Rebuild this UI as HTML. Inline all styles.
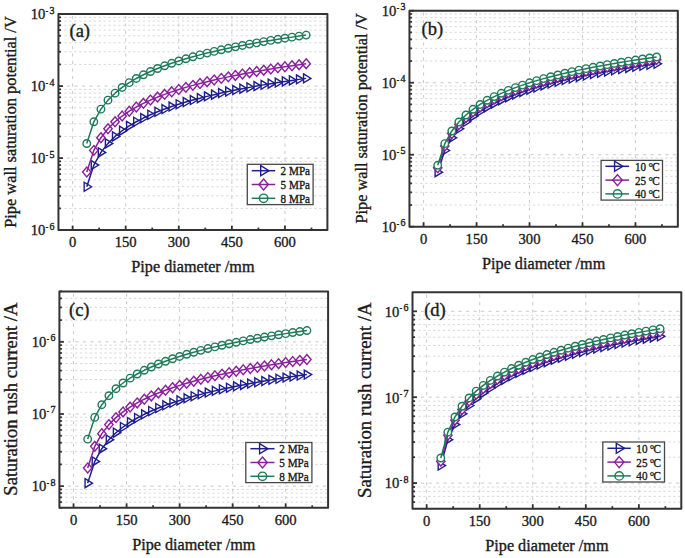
<!DOCTYPE html><html><head><meta charset="utf-8"><style>html,body{margin:0;padding:0;background:#fff;overflow:hidden}svg{display:block}text{font-family:"Liberation Serif",serif;fill:#1a1a1a;stroke:#1a1a1a;stroke-width:0.35px}</style></head><body>
<svg width="685" height="558" viewBox="0 0 685 558">
<rect width="685" height="558" fill="#fff"/>
<g stroke="#d4d4d4" stroke-width="0.9" stroke-dasharray="2.3 2.6"><line x1="59.45" y1="208.43" x2="326.4" y2="208.43"/><line x1="59.45" y1="195.75" x2="326.4" y2="195.75"/><line x1="59.45" y1="186.75" x2="326.4" y2="186.75"/><line x1="59.45" y1="179.77" x2="326.4" y2="179.77"/><line x1="59.45" y1="174.07" x2="326.4" y2="174.07"/><line x1="59.45" y1="169.25" x2="326.4" y2="169.25"/><line x1="59.45" y1="165.08" x2="326.4" y2="165.08"/><line x1="59.45" y1="161.39" x2="326.4" y2="161.39"/><line x1="59.45" y1="136.43" x2="326.4" y2="136.43"/><line x1="59.45" y1="123.75" x2="326.4" y2="123.75"/><line x1="59.45" y1="114.75" x2="326.4" y2="114.75"/><line x1="59.45" y1="107.77" x2="326.4" y2="107.77"/><line x1="59.45" y1="102.07" x2="326.4" y2="102.07"/><line x1="59.45" y1="97.25" x2="326.4" y2="97.25"/><line x1="59.45" y1="93.08" x2="326.4" y2="93.08"/><line x1="59.45" y1="89.39" x2="326.4" y2="89.39"/><line x1="59.45" y1="64.43" x2="326.4" y2="64.43"/><line x1="59.45" y1="51.75" x2="326.4" y2="51.75"/><line x1="59.45" y1="42.75" x2="326.4" y2="42.75"/><line x1="59.45" y1="35.77" x2="326.4" y2="35.77"/><line x1="59.45" y1="30.07" x2="326.4" y2="30.07"/><line x1="59.45" y1="25.25" x2="326.4" y2="25.25"/><line x1="59.45" y1="21.08" x2="326.4" y2="21.08"/><line x1="59.45" y1="17.39" x2="326.4" y2="17.39"/></g>
<g stroke="#c4c4c4" stroke-width="0.9" stroke-dasharray="3.2 4.3"><line x1="59.45" y1="158.1" x2="326.4" y2="158.1"/><line x1="59.45" y1="86.1" x2="326.4" y2="86.1"/><line x1="72.61" y1="229.1" x2="72.61" y2="15.1"/><line x1="125.69" y1="229.1" x2="125.69" y2="15.1"/><line x1="178.77" y1="229.1" x2="178.77" y2="15.1"/><line x1="231.85" y1="229.1" x2="231.85" y2="15.1"/><line x1="284.93" y1="229.1" x2="284.93" y2="15.1"/></g>
<path d="M84.16 182.25L91.56 186.75L84.16 191.25Z" fill="#fff" stroke="#1e1e8e" stroke-width="1.4" stroke-linejoin="miter"/><path d="M91.24 160.58L98.64 165.08L91.24 169.58Z" fill="#fff" stroke="#1e1e8e" stroke-width="1.4" stroke-linejoin="miter"/><path d="M98.32 147.9L105.72 152.4L98.32 156.9Z" fill="#fff" stroke="#1e1e8e" stroke-width="1.4" stroke-linejoin="miter"/><path d="M105.39 138.9L112.79 143.4L105.39 147.9Z" fill="#fff" stroke="#1e1e8e" stroke-width="1.4" stroke-linejoin="miter"/><path d="M112.47 131.93L119.87 136.43L112.47 140.93Z" fill="#fff" stroke="#1e1e8e" stroke-width="1.4" stroke-linejoin="miter"/><path d="M119.55 126.22L126.95 130.72L119.55 135.22Z" fill="#fff" stroke="#1e1e8e" stroke-width="1.4" stroke-linejoin="miter"/><path d="M126.63 121.4L134.03 125.9L126.63 130.4Z" fill="#fff" stroke="#1e1e8e" stroke-width="1.4" stroke-linejoin="miter"/><path d="M133.7 117.23L141.1 121.73L133.7 126.23Z" fill="#fff" stroke="#1e1e8e" stroke-width="1.4" stroke-linejoin="miter"/><path d="M140.78 113.55L148.18 118.05L140.78 122.55Z" fill="#fff" stroke="#1e1e8e" stroke-width="1.4" stroke-linejoin="miter"/><path d="M147.86 110.25L155.26 114.75L147.86 119.25Z" fill="#fff" stroke="#1e1e8e" stroke-width="1.4" stroke-linejoin="miter"/><path d="M154.94 107.27L162.34 111.77L154.94 116.27Z" fill="#fff" stroke="#1e1e8e" stroke-width="1.4" stroke-linejoin="miter"/><path d="M162.01 104.55L169.41 109.05L162.01 113.55Z" fill="#fff" stroke="#1e1e8e" stroke-width="1.4" stroke-linejoin="miter"/><path d="M169.09 102.05L176.49 106.55L169.09 111.05Z" fill="#fff" stroke="#1e1e8e" stroke-width="1.4" stroke-linejoin="miter"/><path d="M176.17 99.73L183.57 104.23L176.17 108.73Z" fill="#fff" stroke="#1e1e8e" stroke-width="1.4" stroke-linejoin="miter"/><path d="M183.25 97.57L190.65 102.07L183.25 106.57Z" fill="#fff" stroke="#1e1e8e" stroke-width="1.4" stroke-linejoin="miter"/><path d="M190.33 95.56L197.73 100.06L190.33 104.56Z" fill="#fff" stroke="#1e1e8e" stroke-width="1.4" stroke-linejoin="miter"/><path d="M197.4 93.66L204.8 98.16L197.4 102.66Z" fill="#fff" stroke="#1e1e8e" stroke-width="1.4" stroke-linejoin="miter"/><path d="M204.48 91.87L211.88 96.37L204.48 100.87Z" fill="#fff" stroke="#1e1e8e" stroke-width="1.4" stroke-linejoin="miter"/><path d="M211.56 90.18L218.96 94.68L211.56 99.18Z" fill="#fff" stroke="#1e1e8e" stroke-width="1.4" stroke-linejoin="miter"/><path d="M218.64 88.58L226.04 93.08L218.64 97.58Z" fill="#fff" stroke="#1e1e8e" stroke-width="1.4" stroke-linejoin="miter"/><path d="M225.71 87.05L233.11 91.55L225.71 96.05Z" fill="#fff" stroke="#1e1e8e" stroke-width="1.4" stroke-linejoin="miter"/><path d="M232.79 85.6L240.19 90.1L232.79 94.6Z" fill="#fff" stroke="#1e1e8e" stroke-width="1.4" stroke-linejoin="miter"/><path d="M239.87 84.21L247.27 88.71L239.87 93.21Z" fill="#fff" stroke="#1e1e8e" stroke-width="1.4" stroke-linejoin="miter"/><path d="M246.95 82.88L254.35 87.38L246.95 91.88Z" fill="#fff" stroke="#1e1e8e" stroke-width="1.4" stroke-linejoin="miter"/><path d="M254.02 81.6L261.42 86.1L254.02 90.6Z" fill="#fff" stroke="#1e1e8e" stroke-width="1.4" stroke-linejoin="miter"/><path d="M261.1 80.37L268.5 84.87L261.1 89.37Z" fill="#fff" stroke="#1e1e8e" stroke-width="1.4" stroke-linejoin="miter"/><path d="M268.18 79.19L275.58 83.69L268.18 88.19Z" fill="#fff" stroke="#1e1e8e" stroke-width="1.4" stroke-linejoin="miter"/><path d="M275.26 78.06L282.66 82.56L275.26 87.06Z" fill="#fff" stroke="#1e1e8e" stroke-width="1.4" stroke-linejoin="miter"/><path d="M282.33 76.96L289.73 81.46L282.33 85.96Z" fill="#fff" stroke="#1e1e8e" stroke-width="1.4" stroke-linejoin="miter"/><path d="M289.41 75.9L296.81 80.4L289.41 84.9Z" fill="#fff" stroke="#1e1e8e" stroke-width="1.4" stroke-linejoin="miter"/><path d="M296.49 74.87L303.89 79.37L296.49 83.87Z" fill="#fff" stroke="#1e1e8e" stroke-width="1.4" stroke-linejoin="miter"/><path d="M303.57 73.88L310.97 78.38L303.57 82.88Z" fill="#fff" stroke="#1e1e8e" stroke-width="1.4" stroke-linejoin="miter"/>
<path d="M86.76 186.75L93.84 165.08L100.92 152.4L107.99 143.4L115.07 136.43L122.15 130.72L129.23 125.9L136.3 121.73L143.38 118.05L150.46 114.75L157.54 111.77L164.61 109.05L171.69 106.55L178.77 104.23L185.85 102.07L192.93 100.06L200 98.16L207.08 96.37L214.16 94.68L221.24 93.08L228.31 91.55L235.39 90.1L242.47 88.71L249.55 87.38L256.62 86.1L263.7 84.87L270.78 83.69L277.86 82.56L284.93 81.46L292.01 80.4L299.09 79.37L306.17 78.38" fill="none" stroke="#1e1e8e" stroke-width="1.5" stroke-linejoin="round"/>
<path d="M86.76 167.16L90.96 172.06L86.76 176.96L82.56 172.06Z" fill="#fff" stroke="#8a1f9c" stroke-width="1.4" stroke-linejoin="miter"/><path d="M93.84 145.48L98.04 150.38L93.84 155.28L89.64 150.38Z" fill="#fff" stroke="#8a1f9c" stroke-width="1.4" stroke-linejoin="miter"/><path d="M100.92 132.8L105.12 137.7L100.92 142.6L96.72 137.7Z" fill="#fff" stroke="#8a1f9c" stroke-width="1.4" stroke-linejoin="miter"/><path d="M107.99 123.81L112.19 128.71L107.99 133.61L103.79 128.71Z" fill="#fff" stroke="#8a1f9c" stroke-width="1.4" stroke-linejoin="miter"/><path d="M115.07 116.83L119.27 121.73L115.07 126.63L110.87 121.73Z" fill="#fff" stroke="#8a1f9c" stroke-width="1.4" stroke-linejoin="miter"/><path d="M122.15 111.13L126.35 116.03L122.15 120.93L117.95 116.03Z" fill="#fff" stroke="#8a1f9c" stroke-width="1.4" stroke-linejoin="miter"/><path d="M129.23 106.31L133.43 111.21L129.23 116.11L125.03 111.21Z" fill="#fff" stroke="#8a1f9c" stroke-width="1.4" stroke-linejoin="miter"/><path d="M136.3 102.13L140.5 107.03L136.3 111.93L132.1 107.03Z" fill="#fff" stroke="#8a1f9c" stroke-width="1.4" stroke-linejoin="miter"/><path d="M143.38 98.45L147.58 103.35L143.38 108.25L139.18 103.35Z" fill="#fff" stroke="#8a1f9c" stroke-width="1.4" stroke-linejoin="miter"/><path d="M150.46 95.16L154.66 100.06L150.46 104.96L146.26 100.06Z" fill="#fff" stroke="#8a1f9c" stroke-width="1.4" stroke-linejoin="miter"/><path d="M157.54 92.17L161.74 97.07L157.54 101.97L153.34 97.07Z" fill="#fff" stroke="#8a1f9c" stroke-width="1.4" stroke-linejoin="miter"/><path d="M164.61 89.45L168.81 94.35L164.61 99.25L160.41 94.35Z" fill="#fff" stroke="#8a1f9c" stroke-width="1.4" stroke-linejoin="miter"/><path d="M171.69 86.95L175.89 91.85L171.69 96.75L167.49 91.85Z" fill="#fff" stroke="#8a1f9c" stroke-width="1.4" stroke-linejoin="miter"/><path d="M178.77 84.63L182.97 89.53L178.77 94.43L174.57 89.53Z" fill="#fff" stroke="#8a1f9c" stroke-width="1.4" stroke-linejoin="miter"/><path d="M185.85 82.48L190.05 87.38L185.85 92.28L181.65 87.38Z" fill="#fff" stroke="#8a1f9c" stroke-width="1.4" stroke-linejoin="miter"/><path d="M192.93 80.46L197.12 85.36L192.93 90.26L188.73 85.36Z" fill="#fff" stroke="#8a1f9c" stroke-width="1.4" stroke-linejoin="miter"/><path d="M200 78.56L204.2 83.46L200 88.36L195.8 83.46Z" fill="#fff" stroke="#8a1f9c" stroke-width="1.4" stroke-linejoin="miter"/><path d="M207.08 76.78L211.28 81.68L207.08 86.58L202.88 81.68Z" fill="#fff" stroke="#8a1f9c" stroke-width="1.4" stroke-linejoin="miter"/><path d="M214.16 75.08L218.36 79.98L214.16 84.88L209.96 79.98Z" fill="#fff" stroke="#8a1f9c" stroke-width="1.4" stroke-linejoin="miter"/><path d="M221.24 73.48L225.44 78.38L221.24 83.28L217.04 78.38Z" fill="#fff" stroke="#8a1f9c" stroke-width="1.4" stroke-linejoin="miter"/><path d="M228.31 71.96L232.51 76.86L228.31 81.76L224.11 76.86Z" fill="#fff" stroke="#8a1f9c" stroke-width="1.4" stroke-linejoin="miter"/><path d="M235.39 70.5L239.59 75.4L235.39 80.3L231.19 75.4Z" fill="#fff" stroke="#8a1f9c" stroke-width="1.4" stroke-linejoin="miter"/><path d="M242.47 69.11L246.67 74.01L242.47 78.91L238.27 74.01Z" fill="#fff" stroke="#8a1f9c" stroke-width="1.4" stroke-linejoin="miter"/><path d="M249.55 67.78L253.75 72.68L249.55 77.58L245.35 72.68Z" fill="#fff" stroke="#8a1f9c" stroke-width="1.4" stroke-linejoin="miter"/><path d="M256.62 66.5L260.82 71.4L256.62 76.3L252.42 71.4Z" fill="#fff" stroke="#8a1f9c" stroke-width="1.4" stroke-linejoin="miter"/><path d="M263.7 65.28L267.9 70.18L263.7 75.08L259.5 70.18Z" fill="#fff" stroke="#8a1f9c" stroke-width="1.4" stroke-linejoin="miter"/><path d="M270.78 64.1L274.98 69L270.78 73.9L266.58 69Z" fill="#fff" stroke="#8a1f9c" stroke-width="1.4" stroke-linejoin="miter"/><path d="M277.86 62.96L282.06 67.86L277.86 72.76L273.66 67.86Z" fill="#fff" stroke="#8a1f9c" stroke-width="1.4" stroke-linejoin="miter"/><path d="M284.93 61.86L289.13 66.76L284.93 71.66L280.73 66.76Z" fill="#fff" stroke="#8a1f9c" stroke-width="1.4" stroke-linejoin="miter"/><path d="M292.01 60.8L296.21 65.7L292.01 70.6L287.81 65.7Z" fill="#fff" stroke="#8a1f9c" stroke-width="1.4" stroke-linejoin="miter"/><path d="M299.09 59.78L303.29 64.68L299.09 69.58L294.89 64.68Z" fill="#fff" stroke="#8a1f9c" stroke-width="1.4" stroke-linejoin="miter"/><path d="M306.17 58.78L310.37 63.68L306.17 68.58L301.97 63.68Z" fill="#fff" stroke="#8a1f9c" stroke-width="1.4" stroke-linejoin="miter"/>
<path d="M86.76 172.06L93.84 150.38L100.92 137.7L107.99 128.71L115.07 121.73L122.15 116.03L129.23 111.21L136.3 107.03L143.38 103.35L150.46 100.06L157.54 97.07L164.61 94.35L171.69 91.85L178.77 89.53L185.85 87.38L192.93 85.36L200 83.46L207.08 81.68L214.16 79.98L221.24 78.38L228.31 76.86L235.39 75.4L242.47 74.01L249.55 72.68L256.62 71.4L263.7 70.18L270.78 69L277.86 67.86L284.93 66.76L292.01 65.7L299.09 64.68L306.17 63.68" fill="none" stroke="#8a1f9c" stroke-width="1.5" stroke-linejoin="round"/>
<circle cx="86.76" cy="143.48" r="3.75" fill="#fff" stroke="#1f7a58" stroke-width="1.4"/><circle cx="93.84" cy="121.81" r="3.75" fill="#fff" stroke="#1f7a58" stroke-width="1.4"/><circle cx="100.92" cy="109.13" r="3.75" fill="#fff" stroke="#1f7a58" stroke-width="1.4"/><circle cx="107.99" cy="100.13" r="3.75" fill="#fff" stroke="#1f7a58" stroke-width="1.4"/><circle cx="115.07" cy="93.16" r="3.75" fill="#fff" stroke="#1f7a58" stroke-width="1.4"/><circle cx="122.15" cy="87.45" r="3.75" fill="#fff" stroke="#1f7a58" stroke-width="1.4"/><circle cx="129.23" cy="82.63" r="3.75" fill="#fff" stroke="#1f7a58" stroke-width="1.4"/><circle cx="136.3" cy="78.46" r="3.75" fill="#fff" stroke="#1f7a58" stroke-width="1.4"/><circle cx="143.38" cy="74.78" r="3.75" fill="#fff" stroke="#1f7a58" stroke-width="1.4"/><circle cx="150.46" cy="71.48" r="3.75" fill="#fff" stroke="#1f7a58" stroke-width="1.4"/><circle cx="157.54" cy="68.5" r="3.75" fill="#fff" stroke="#1f7a58" stroke-width="1.4"/><circle cx="164.61" cy="65.78" r="3.75" fill="#fff" stroke="#1f7a58" stroke-width="1.4"/><circle cx="171.69" cy="63.28" r="3.75" fill="#fff" stroke="#1f7a58" stroke-width="1.4"/><circle cx="178.77" cy="60.96" r="3.75" fill="#fff" stroke="#1f7a58" stroke-width="1.4"/><circle cx="185.85" cy="58.8" r="3.75" fill="#fff" stroke="#1f7a58" stroke-width="1.4"/><circle cx="192.93" cy="56.78" r="3.75" fill="#fff" stroke="#1f7a58" stroke-width="1.4"/><circle cx="200" cy="54.89" r="3.75" fill="#fff" stroke="#1f7a58" stroke-width="1.4"/><circle cx="207.08" cy="53.1" r="3.75" fill="#fff" stroke="#1f7a58" stroke-width="1.4"/><circle cx="214.16" cy="51.41" r="3.75" fill="#fff" stroke="#1f7a58" stroke-width="1.4"/><circle cx="221.24" cy="49.81" r="3.75" fill="#fff" stroke="#1f7a58" stroke-width="1.4"/><circle cx="228.31" cy="48.28" r="3.75" fill="#fff" stroke="#1f7a58" stroke-width="1.4"/><circle cx="235.39" cy="46.83" r="3.75" fill="#fff" stroke="#1f7a58" stroke-width="1.4"/><circle cx="242.47" cy="45.44" r="3.75" fill="#fff" stroke="#1f7a58" stroke-width="1.4"/><circle cx="249.55" cy="44.11" r="3.75" fill="#fff" stroke="#1f7a58" stroke-width="1.4"/><circle cx="256.62" cy="42.83" r="3.75" fill="#fff" stroke="#1f7a58" stroke-width="1.4"/><circle cx="263.7" cy="41.6" r="3.75" fill="#fff" stroke="#1f7a58" stroke-width="1.4"/><circle cx="270.78" cy="40.42" r="3.75" fill="#fff" stroke="#1f7a58" stroke-width="1.4"/><circle cx="277.86" cy="39.29" r="3.75" fill="#fff" stroke="#1f7a58" stroke-width="1.4"/><circle cx="284.93" cy="38.19" r="3.75" fill="#fff" stroke="#1f7a58" stroke-width="1.4"/><circle cx="292.01" cy="37.13" r="3.75" fill="#fff" stroke="#1f7a58" stroke-width="1.4"/><circle cx="299.09" cy="36.1" r="3.75" fill="#fff" stroke="#1f7a58" stroke-width="1.4"/><circle cx="306.17" cy="35.11" r="3.75" fill="#fff" stroke="#1f7a58" stroke-width="1.4"/>
<path d="M86.76 143.48L93.84 121.81L100.92 109.13L107.99 100.13L115.07 93.16L122.15 87.45L129.23 82.63L136.3 78.46L143.38 74.78L150.46 71.48L157.54 68.5L164.61 65.78L171.69 63.28L178.77 60.96L185.85 58.8L192.93 56.78L200 54.89L207.08 53.1L214.16 51.41L221.24 49.81L228.31 48.28L235.39 46.83L242.47 45.44L249.55 44.11L256.62 42.83L263.7 41.6L270.78 40.42L277.86 39.29L284.93 38.19L292.01 37.13L299.09 36.1L306.17 35.11" fill="none" stroke="#1f7a58" stroke-width="1.5" stroke-linejoin="round"/>
<rect x="58.45" y="14.1" width="268.95" height="216" fill="none" stroke="#333333" stroke-width="2" stroke-linejoin="round"/>
<g stroke="#333333"><line x1="72.61" y1="230.1" x2="72.61" y2="225.6" stroke-width="1.8"/><line x1="125.69" y1="230.1" x2="125.69" y2="225.6" stroke-width="1.8"/><line x1="178.77" y1="230.1" x2="178.77" y2="225.6" stroke-width="1.8"/><line x1="231.85" y1="230.1" x2="231.85" y2="225.6" stroke-width="1.8"/><line x1="284.93" y1="230.1" x2="284.93" y2="225.6" stroke-width="1.8"/><line x1="99.15" y1="230.1" x2="99.15" y2="227.6" stroke-width="1.8"/><line x1="152.23" y1="230.1" x2="152.23" y2="227.6" stroke-width="1.8"/><line x1="205.31" y1="230.1" x2="205.31" y2="227.6" stroke-width="1.8"/><line x1="258.39" y1="230.1" x2="258.39" y2="227.6" stroke-width="1.8"/><line x1="311.48" y1="230.1" x2="311.48" y2="227.6" stroke-width="1.8"/><line x1="58.45" y1="230.1" x2="62.95" y2="230.1" stroke-width="1.8"/><line x1="58.45" y1="208.43" x2="60.95" y2="208.43" stroke-width="1.8"/><line x1="58.45" y1="195.75" x2="60.95" y2="195.75" stroke-width="1.8"/><line x1="58.45" y1="186.75" x2="60.95" y2="186.75" stroke-width="1.8"/><line x1="58.45" y1="179.77" x2="60.95" y2="179.77" stroke-width="1.8"/><line x1="58.45" y1="174.07" x2="60.95" y2="174.07" stroke-width="1.8"/><line x1="58.45" y1="169.25" x2="60.95" y2="169.25" stroke-width="1.8"/><line x1="58.45" y1="165.08" x2="60.95" y2="165.08" stroke-width="1.8"/><line x1="58.45" y1="161.39" x2="60.95" y2="161.39" stroke-width="1.8"/><line x1="58.45" y1="158.1" x2="62.95" y2="158.1" stroke-width="1.8"/><line x1="58.45" y1="136.43" x2="60.95" y2="136.43" stroke-width="1.8"/><line x1="58.45" y1="123.75" x2="60.95" y2="123.75" stroke-width="1.8"/><line x1="58.45" y1="114.75" x2="60.95" y2="114.75" stroke-width="1.8"/><line x1="58.45" y1="107.77" x2="60.95" y2="107.77" stroke-width="1.8"/><line x1="58.45" y1="102.07" x2="60.95" y2="102.07" stroke-width="1.8"/><line x1="58.45" y1="97.25" x2="60.95" y2="97.25" stroke-width="1.8"/><line x1="58.45" y1="93.08" x2="60.95" y2="93.08" stroke-width="1.8"/><line x1="58.45" y1="89.39" x2="60.95" y2="89.39" stroke-width="1.8"/><line x1="58.45" y1="86.1" x2="62.95" y2="86.1" stroke-width="1.8"/><line x1="58.45" y1="64.43" x2="60.95" y2="64.43" stroke-width="1.8"/><line x1="58.45" y1="51.75" x2="60.95" y2="51.75" stroke-width="1.8"/><line x1="58.45" y1="42.75" x2="60.95" y2="42.75" stroke-width="1.8"/><line x1="58.45" y1="35.77" x2="60.95" y2="35.77" stroke-width="1.8"/><line x1="58.45" y1="30.07" x2="60.95" y2="30.07" stroke-width="1.8"/><line x1="58.45" y1="25.25" x2="60.95" y2="25.25" stroke-width="1.8"/><line x1="58.45" y1="21.08" x2="60.95" y2="21.08" stroke-width="1.8"/><line x1="58.45" y1="17.39" x2="60.95" y2="17.39" stroke-width="1.8"/><line x1="58.45" y1="14.1" x2="62.95" y2="14.1" stroke-width="1.8"/></g>
<text x="72.61" y="247.4" font-size="14.6" text-anchor="middle">0</text>
<text x="125.69" y="247.4" font-size="14.6" text-anchor="middle">150</text>
<text x="178.77" y="247.4" font-size="14.6" text-anchor="middle">300</text>
<text x="231.85" y="247.4" font-size="14.6" text-anchor="middle">450</text>
<text x="284.93" y="247.4" font-size="14.6" text-anchor="middle">600</text>
<text x="54.45" y="235.4" font-size="14.6" text-anchor="end">10<tspan font-size="7" dx="0.5" dy="-6.5">-</tspan><tspan font-size="10" dx="1.3" dy="0.7">6</tspan></text>
<text x="54.45" y="163.4" font-size="14.6" text-anchor="end">10<tspan font-size="7" dx="0.5" dy="-6.5">-</tspan><tspan font-size="10" dx="1.3" dy="0.7">5</tspan></text>
<text x="54.45" y="91.4" font-size="14.6" text-anchor="end">10<tspan font-size="7" dx="0.5" dy="-6.5">-</tspan><tspan font-size="10" dx="1.3" dy="0.7">4</tspan></text>
<text x="54.45" y="19.4" font-size="14.6" text-anchor="end">10<tspan font-size="7" dx="0.5" dy="-6.5">-</tspan><tspan font-size="10" dx="1.3" dy="0.7">3</tspan></text>
<text x="192.92" y="271.7" font-size="16.2" text-anchor="middle">Pipe diameter /mm</text>
<text transform="translate(15.6 122.05) rotate(-90)" font-size="16.35" text-anchor="middle">Pipe wall saturation potential /V</text>
<text x="69.5" y="36.8" font-size="18.5">(a)</text>
<rect x="247.3" y="164.3" width="65.8" height="40.3" fill="#fff" stroke="#484848" stroke-width="1.3"/>
<path d="M260.69 165.66L268.98 170.7L260.69 175.74Z" fill="#fff" stroke="#1e1e8e" stroke-width="1.4" stroke-linejoin="miter"/>
<line x1="251.7" y1="170.7" x2="275.2" y2="170.7" stroke="#1e1e8e" stroke-width="1.5"/>
<text transform="translate(280.6 175.1) scale(0.93 1)" font-size="12">2 MPa</text>
<path d="M263.6 179.01L268.3 184.5L263.6 189.99L258.9 184.5Z" fill="#fff" stroke="#8a1f9c" stroke-width="1.4" stroke-linejoin="miter"/>
<line x1="251.7" y1="184.5" x2="275.2" y2="184.5" stroke="#8a1f9c" stroke-width="1.5"/>
<text transform="translate(280.6 188.9) scale(0.93 1)" font-size="12">5 MPa</text>
<circle cx="263.6" cy="198.3" r="4.2" fill="#fff" stroke="#1f7a58" stroke-width="1.4"/>
<line x1="251.7" y1="198.3" x2="275.2" y2="198.3" stroke="#1f7a58" stroke-width="1.5"/>
<text transform="translate(280.6 202.7) scale(0.93 1)" font-size="12">8 MPa</text>
<g stroke="#d4d4d4" stroke-width="0.9" stroke-dasharray="2.3 2.6"><line x1="410.45" y1="205.03" x2="676.85" y2="205.03"/><line x1="410.45" y1="192.35" x2="676.85" y2="192.35"/><line x1="410.45" y1="183.35" x2="676.85" y2="183.35"/><line x1="410.45" y1="176.37" x2="676.85" y2="176.37"/><line x1="410.45" y1="170.67" x2="676.85" y2="170.67"/><line x1="410.45" y1="165.85" x2="676.85" y2="165.85"/><line x1="410.45" y1="161.68" x2="676.85" y2="161.68"/><line x1="410.45" y1="157.99" x2="676.85" y2="157.99"/><line x1="410.45" y1="133.03" x2="676.85" y2="133.03"/><line x1="410.45" y1="120.35" x2="676.85" y2="120.35"/><line x1="410.45" y1="111.35" x2="676.85" y2="111.35"/><line x1="410.45" y1="104.37" x2="676.85" y2="104.37"/><line x1="410.45" y1="98.67" x2="676.85" y2="98.67"/><line x1="410.45" y1="93.85" x2="676.85" y2="93.85"/><line x1="410.45" y1="89.68" x2="676.85" y2="89.68"/><line x1="410.45" y1="85.99" x2="676.85" y2="85.99"/><line x1="410.45" y1="61.03" x2="676.85" y2="61.03"/><line x1="410.45" y1="48.35" x2="676.85" y2="48.35"/><line x1="410.45" y1="39.35" x2="676.85" y2="39.35"/><line x1="410.45" y1="32.37" x2="676.85" y2="32.37"/><line x1="410.45" y1="26.67" x2="676.85" y2="26.67"/><line x1="410.45" y1="21.85" x2="676.85" y2="21.85"/><line x1="410.45" y1="17.68" x2="676.85" y2="17.68"/><line x1="410.45" y1="13.99" x2="676.85" y2="13.99"/></g>
<g stroke="#c4c4c4" stroke-width="0.9" stroke-dasharray="3.2 4.3"><line x1="410.45" y1="154.7" x2="676.85" y2="154.7"/><line x1="410.45" y1="82.7" x2="676.85" y2="82.7"/><line x1="423.58" y1="225.7" x2="423.58" y2="11.7"/><line x1="476.55" y1="225.7" x2="476.55" y2="11.7"/><line x1="529.52" y1="225.7" x2="529.52" y2="11.7"/><line x1="582.5" y1="225.7" x2="582.5" y2="11.7"/><line x1="635.47" y1="225.7" x2="635.47" y2="11.7"/></g>
<path d="M435.1 167.67L442.5 172.17L435.1 176.67Z" fill="#fff" stroke="#1e1e8e" stroke-width="1.4" stroke-linejoin="miter"/><path d="M442.17 145.99L449.57 150.49L442.17 154.99Z" fill="#fff" stroke="#1e1e8e" stroke-width="1.4" stroke-linejoin="miter"/><path d="M449.23 133.31L456.63 137.81L449.23 142.31Z" fill="#fff" stroke="#1e1e8e" stroke-width="1.4" stroke-linejoin="miter"/><path d="M456.29 124.32L463.69 128.82L456.29 133.32Z" fill="#fff" stroke="#1e1e8e" stroke-width="1.4" stroke-linejoin="miter"/><path d="M463.36 117.34L470.76 121.84L463.36 126.34Z" fill="#fff" stroke="#1e1e8e" stroke-width="1.4" stroke-linejoin="miter"/><path d="M470.42 111.64L477.82 116.14L470.42 120.64Z" fill="#fff" stroke="#1e1e8e" stroke-width="1.4" stroke-linejoin="miter"/><path d="M477.48 106.82L484.88 111.32L477.48 115.82Z" fill="#fff" stroke="#1e1e8e" stroke-width="1.4" stroke-linejoin="miter"/><path d="M484.54 102.65L491.94 107.15L484.54 111.65Z" fill="#fff" stroke="#1e1e8e" stroke-width="1.4" stroke-linejoin="miter"/><path d="M491.61 98.96L499.01 103.46L491.61 107.96Z" fill="#fff" stroke="#1e1e8e" stroke-width="1.4" stroke-linejoin="miter"/><path d="M498.67 95.67L506.07 100.17L498.67 104.67Z" fill="#fff" stroke="#1e1e8e" stroke-width="1.4" stroke-linejoin="miter"/><path d="M505.73 92.69L513.13 97.19L505.73 101.69Z" fill="#fff" stroke="#1e1e8e" stroke-width="1.4" stroke-linejoin="miter"/><path d="M512.8 89.97L520.2 94.47L512.8 98.97Z" fill="#fff" stroke="#1e1e8e" stroke-width="1.4" stroke-linejoin="miter"/><path d="M519.86 87.46L527.26 91.96L519.86 96.46Z" fill="#fff" stroke="#1e1e8e" stroke-width="1.4" stroke-linejoin="miter"/><path d="M526.92 85.15L534.32 89.65L526.92 94.15Z" fill="#fff" stroke="#1e1e8e" stroke-width="1.4" stroke-linejoin="miter"/><path d="M533.99 82.99L541.39 87.49L533.99 91.99Z" fill="#fff" stroke="#1e1e8e" stroke-width="1.4" stroke-linejoin="miter"/><path d="M541.05 80.97L548.45 85.47L541.05 89.97Z" fill="#fff" stroke="#1e1e8e" stroke-width="1.4" stroke-linejoin="miter"/><path d="M548.11 79.08L555.51 83.58L548.11 88.08Z" fill="#fff" stroke="#1e1e8e" stroke-width="1.4" stroke-linejoin="miter"/><path d="M555.18 77.29L562.58 81.79L555.18 86.29Z" fill="#fff" stroke="#1e1e8e" stroke-width="1.4" stroke-linejoin="miter"/><path d="M562.24 75.6L569.64 80.1L562.24 84.6Z" fill="#fff" stroke="#1e1e8e" stroke-width="1.4" stroke-linejoin="miter"/><path d="M569.3 73.99L576.7 78.49L569.3 82.99Z" fill="#fff" stroke="#1e1e8e" stroke-width="1.4" stroke-linejoin="miter"/><path d="M576.37 72.47L583.77 76.97L576.37 81.47Z" fill="#fff" stroke="#1e1e8e" stroke-width="1.4" stroke-linejoin="miter"/><path d="M583.43 71.01L590.83 75.51L583.43 80.01Z" fill="#fff" stroke="#1e1e8e" stroke-width="1.4" stroke-linejoin="miter"/><path d="M590.49 69.62L597.89 74.12L590.49 78.62Z" fill="#fff" stroke="#1e1e8e" stroke-width="1.4" stroke-linejoin="miter"/><path d="M597.56 68.29L604.96 72.79L597.56 77.29Z" fill="#fff" stroke="#1e1e8e" stroke-width="1.4" stroke-linejoin="miter"/><path d="M604.62 67.02L612.02 71.52L604.62 76.02Z" fill="#fff" stroke="#1e1e8e" stroke-width="1.4" stroke-linejoin="miter"/><path d="M611.68 65.79L619.08 70.29L611.68 74.79Z" fill="#fff" stroke="#1e1e8e" stroke-width="1.4" stroke-linejoin="miter"/><path d="M618.74 64.61L626.14 69.11L618.74 73.61Z" fill="#fff" stroke="#1e1e8e" stroke-width="1.4" stroke-linejoin="miter"/><path d="M625.81 63.47L633.21 67.97L625.81 72.47Z" fill="#fff" stroke="#1e1e8e" stroke-width="1.4" stroke-linejoin="miter"/><path d="M632.87 62.37L640.27 66.87L632.87 71.37Z" fill="#fff" stroke="#1e1e8e" stroke-width="1.4" stroke-linejoin="miter"/><path d="M639.93 61.31L647.33 65.81L639.93 70.31Z" fill="#fff" stroke="#1e1e8e" stroke-width="1.4" stroke-linejoin="miter"/><path d="M647 60.29L654.4 64.79L647 69.29Z" fill="#fff" stroke="#1e1e8e" stroke-width="1.4" stroke-linejoin="miter"/><path d="M654.06 59.3L661.46 63.8L654.06 68.3Z" fill="#fff" stroke="#1e1e8e" stroke-width="1.4" stroke-linejoin="miter"/>
<path d="M437.7 172.17L444.77 150.49L451.83 137.81L458.89 128.82L465.96 121.84L473.02 116.14L480.08 111.32L487.14 107.15L494.21 103.46L501.27 100.17L508.33 97.19L515.4 94.47L522.46 91.96L529.52 89.65L536.59 87.49L543.65 85.47L550.71 83.58L557.78 81.79L564.84 80.1L571.9 78.49L578.97 76.97L586.03 75.51L593.09 74.12L600.16 72.79L607.22 71.52L614.28 70.29L621.34 69.11L628.41 67.97L635.47 66.87L642.53 65.81L649.6 64.79L656.66 63.8" fill="none" stroke="#1e1e8e" stroke-width="1.5" stroke-linejoin="round"/>
<path d="M437.7 162.89L441.9 167.79L437.7 172.69L433.5 167.79Z" fill="#fff" stroke="#8a1f9c" stroke-width="1.4" stroke-linejoin="miter"/><path d="M444.77 141.21L448.97 146.11L444.77 151.01L440.57 146.11Z" fill="#fff" stroke="#8a1f9c" stroke-width="1.4" stroke-linejoin="miter"/><path d="M451.83 128.54L456.03 133.44L451.83 138.34L447.63 133.44Z" fill="#fff" stroke="#8a1f9c" stroke-width="1.4" stroke-linejoin="miter"/><path d="M458.89 119.54L463.09 124.44L458.89 129.34L454.69 124.44Z" fill="#fff" stroke="#8a1f9c" stroke-width="1.4" stroke-linejoin="miter"/><path d="M465.96 112.56L470.16 117.46L465.96 122.36L461.76 117.46Z" fill="#fff" stroke="#8a1f9c" stroke-width="1.4" stroke-linejoin="miter"/><path d="M473.02 106.86L477.22 111.76L473.02 116.66L468.82 111.76Z" fill="#fff" stroke="#8a1f9c" stroke-width="1.4" stroke-linejoin="miter"/><path d="M480.08 102.04L484.28 106.94L480.08 111.84L475.88 106.94Z" fill="#fff" stroke="#8a1f9c" stroke-width="1.4" stroke-linejoin="miter"/><path d="M487.14 97.87L491.34 102.77L487.14 107.67L482.94 102.77Z" fill="#fff" stroke="#8a1f9c" stroke-width="1.4" stroke-linejoin="miter"/><path d="M494.21 94.18L498.41 99.08L494.21 103.98L490.01 99.08Z" fill="#fff" stroke="#8a1f9c" stroke-width="1.4" stroke-linejoin="miter"/><path d="M501.27 90.89L505.47 95.79L501.27 100.69L497.07 95.79Z" fill="#fff" stroke="#8a1f9c" stroke-width="1.4" stroke-linejoin="miter"/><path d="M508.33 87.91L512.53 92.81L508.33 97.71L504.13 92.81Z" fill="#fff" stroke="#8a1f9c" stroke-width="1.4" stroke-linejoin="miter"/><path d="M515.4 85.19L519.6 90.09L515.4 94.99L511.2 90.09Z" fill="#fff" stroke="#8a1f9c" stroke-width="1.4" stroke-linejoin="miter"/><path d="M522.46 82.68L526.66 87.58L522.46 92.48L518.26 87.58Z" fill="#fff" stroke="#8a1f9c" stroke-width="1.4" stroke-linejoin="miter"/><path d="M529.52 80.37L533.72 85.27L529.52 90.17L525.32 85.27Z" fill="#fff" stroke="#8a1f9c" stroke-width="1.4" stroke-linejoin="miter"/><path d="M536.59 78.21L540.79 83.11L536.59 88.01L532.39 83.11Z" fill="#fff" stroke="#8a1f9c" stroke-width="1.4" stroke-linejoin="miter"/><path d="M543.65 76.19L547.85 81.09L543.65 85.99L539.45 81.09Z" fill="#fff" stroke="#8a1f9c" stroke-width="1.4" stroke-linejoin="miter"/><path d="M550.71 74.3L554.91 79.2L550.71 84.1L546.51 79.2Z" fill="#fff" stroke="#8a1f9c" stroke-width="1.4" stroke-linejoin="miter"/><path d="M557.78 72.51L561.98 77.41L557.78 82.31L553.58 77.41Z" fill="#fff" stroke="#8a1f9c" stroke-width="1.4" stroke-linejoin="miter"/><path d="M564.84 70.82L569.04 75.72L564.84 80.62L560.64 75.72Z" fill="#fff" stroke="#8a1f9c" stroke-width="1.4" stroke-linejoin="miter"/><path d="M571.9 69.21L576.1 74.11L571.9 79.01L567.7 74.11Z" fill="#fff" stroke="#8a1f9c" stroke-width="1.4" stroke-linejoin="miter"/><path d="M578.97 67.69L583.17 72.59L578.97 77.49L574.77 72.59Z" fill="#fff" stroke="#8a1f9c" stroke-width="1.4" stroke-linejoin="miter"/><path d="M586.03 66.23L590.23 71.13L586.03 76.03L581.83 71.13Z" fill="#fff" stroke="#8a1f9c" stroke-width="1.4" stroke-linejoin="miter"/><path d="M593.09 64.84L597.29 69.74L593.09 74.64L588.89 69.74Z" fill="#fff" stroke="#8a1f9c" stroke-width="1.4" stroke-linejoin="miter"/><path d="M600.16 63.51L604.36 68.41L600.16 73.31L595.96 68.41Z" fill="#fff" stroke="#8a1f9c" stroke-width="1.4" stroke-linejoin="miter"/><path d="M607.22 62.24L611.42 67.14L607.22 72.04L603.02 67.14Z" fill="#fff" stroke="#8a1f9c" stroke-width="1.4" stroke-linejoin="miter"/><path d="M614.28 61.01L618.48 65.91L614.28 70.81L610.08 65.91Z" fill="#fff" stroke="#8a1f9c" stroke-width="1.4" stroke-linejoin="miter"/><path d="M621.34 59.83L625.54 64.73L621.34 69.63L617.14 64.73Z" fill="#fff" stroke="#8a1f9c" stroke-width="1.4" stroke-linejoin="miter"/><path d="M628.41 58.69L632.61 63.59L628.41 68.49L624.21 63.59Z" fill="#fff" stroke="#8a1f9c" stroke-width="1.4" stroke-linejoin="miter"/><path d="M635.47 57.6L639.67 62.5L635.47 67.4L631.27 62.5Z" fill="#fff" stroke="#8a1f9c" stroke-width="1.4" stroke-linejoin="miter"/><path d="M642.53 56.54L646.73 61.44L642.53 66.34L638.33 61.44Z" fill="#fff" stroke="#8a1f9c" stroke-width="1.4" stroke-linejoin="miter"/><path d="M649.6 55.51L653.8 60.41L649.6 65.31L645.4 60.41Z" fill="#fff" stroke="#8a1f9c" stroke-width="1.4" stroke-linejoin="miter"/><path d="M656.66 54.52L660.86 59.42L656.66 64.32L652.46 59.42Z" fill="#fff" stroke="#8a1f9c" stroke-width="1.4" stroke-linejoin="miter"/>
<path d="M437.7 167.79L444.77 146.11L451.83 133.44L458.89 124.44L465.96 117.46L473.02 111.76L480.08 106.94L487.14 102.77L494.21 99.08L501.27 95.79L508.33 92.81L515.4 90.09L522.46 87.58L529.52 85.27L536.59 83.11L543.65 81.09L550.71 79.2L557.78 77.41L564.84 75.72L571.9 74.11L578.97 72.59L586.03 71.13L593.09 69.74L600.16 68.41L607.22 67.14L614.28 65.91L621.34 64.73L628.41 63.59L635.47 62.5L642.53 61.44L649.6 60.41L656.66 59.42" fill="none" stroke="#8a1f9c" stroke-width="1.5" stroke-linejoin="round"/>
<circle cx="437.7" cy="165.32" r="3.75" fill="#fff" stroke="#1f7a58" stroke-width="1.4"/><circle cx="444.77" cy="143.65" r="3.75" fill="#fff" stroke="#1f7a58" stroke-width="1.4"/><circle cx="451.83" cy="130.97" r="3.75" fill="#fff" stroke="#1f7a58" stroke-width="1.4"/><circle cx="458.89" cy="121.97" r="3.75" fill="#fff" stroke="#1f7a58" stroke-width="1.4"/><circle cx="465.96" cy="115" r="3.75" fill="#fff" stroke="#1f7a58" stroke-width="1.4"/><circle cx="473.02" cy="109.29" r="3.75" fill="#fff" stroke="#1f7a58" stroke-width="1.4"/><circle cx="480.08" cy="104.47" r="3.75" fill="#fff" stroke="#1f7a58" stroke-width="1.4"/><circle cx="487.14" cy="100.3" r="3.75" fill="#fff" stroke="#1f7a58" stroke-width="1.4"/><circle cx="494.21" cy="96.62" r="3.75" fill="#fff" stroke="#1f7a58" stroke-width="1.4"/><circle cx="501.27" cy="93.32" r="3.75" fill="#fff" stroke="#1f7a58" stroke-width="1.4"/><circle cx="508.33" cy="90.34" r="3.75" fill="#fff" stroke="#1f7a58" stroke-width="1.4"/><circle cx="515.4" cy="87.62" r="3.75" fill="#fff" stroke="#1f7a58" stroke-width="1.4"/><circle cx="522.46" cy="85.12" r="3.75" fill="#fff" stroke="#1f7a58" stroke-width="1.4"/><circle cx="529.52" cy="82.8" r="3.75" fill="#fff" stroke="#1f7a58" stroke-width="1.4"/><circle cx="536.59" cy="80.64" r="3.75" fill="#fff" stroke="#1f7a58" stroke-width="1.4"/><circle cx="543.65" cy="78.62" r="3.75" fill="#fff" stroke="#1f7a58" stroke-width="1.4"/><circle cx="550.71" cy="76.73" r="3.75" fill="#fff" stroke="#1f7a58" stroke-width="1.4"/><circle cx="557.78" cy="74.94" r="3.75" fill="#fff" stroke="#1f7a58" stroke-width="1.4"/><circle cx="564.84" cy="73.25" r="3.75" fill="#fff" stroke="#1f7a58" stroke-width="1.4"/><circle cx="571.9" cy="71.65" r="3.75" fill="#fff" stroke="#1f7a58" stroke-width="1.4"/><circle cx="578.97" cy="70.12" r="3.75" fill="#fff" stroke="#1f7a58" stroke-width="1.4"/><circle cx="586.03" cy="68.67" r="3.75" fill="#fff" stroke="#1f7a58" stroke-width="1.4"/><circle cx="593.09" cy="67.28" r="3.75" fill="#fff" stroke="#1f7a58" stroke-width="1.4"/><circle cx="600.16" cy="65.95" r="3.75" fill="#fff" stroke="#1f7a58" stroke-width="1.4"/><circle cx="607.22" cy="64.67" r="3.75" fill="#fff" stroke="#1f7a58" stroke-width="1.4"/><circle cx="614.28" cy="63.44" r="3.75" fill="#fff" stroke="#1f7a58" stroke-width="1.4"/><circle cx="621.34" cy="62.26" r="3.75" fill="#fff" stroke="#1f7a58" stroke-width="1.4"/><circle cx="628.41" cy="61.13" r="3.75" fill="#fff" stroke="#1f7a58" stroke-width="1.4"/><circle cx="635.47" cy="60.03" r="3.75" fill="#fff" stroke="#1f7a58" stroke-width="1.4"/><circle cx="642.53" cy="58.97" r="3.75" fill="#fff" stroke="#1f7a58" stroke-width="1.4"/><circle cx="649.6" cy="57.94" r="3.75" fill="#fff" stroke="#1f7a58" stroke-width="1.4"/><circle cx="656.66" cy="56.95" r="3.75" fill="#fff" stroke="#1f7a58" stroke-width="1.4"/>
<path d="M437.7 165.32L444.77 143.65L451.83 130.97L458.89 121.97L465.96 115L473.02 109.29L480.08 104.47L487.14 100.3L494.21 96.62L501.27 93.32L508.33 90.34L515.4 87.62L522.46 85.12L529.52 82.8L536.59 80.64L543.65 78.62L550.71 76.73L557.78 74.94L564.84 73.25L571.9 71.65L578.97 70.12L586.03 68.67L593.09 67.28L600.16 65.95L607.22 64.67L614.28 63.44L621.34 62.26L628.41 61.13L635.47 60.03L642.53 58.97L649.6 57.94L656.66 56.95" fill="none" stroke="#1f7a58" stroke-width="1.5" stroke-linejoin="round"/>
<rect x="409.45" y="10.7" width="268.4" height="216" fill="none" stroke="#333333" stroke-width="2" stroke-linejoin="round"/>
<g stroke="#333333"><line x1="423.58" y1="226.7" x2="423.58" y2="222.2" stroke-width="1.8"/><line x1="476.55" y1="226.7" x2="476.55" y2="222.2" stroke-width="1.8"/><line x1="529.52" y1="226.7" x2="529.52" y2="222.2" stroke-width="1.8"/><line x1="582.5" y1="226.7" x2="582.5" y2="222.2" stroke-width="1.8"/><line x1="635.47" y1="226.7" x2="635.47" y2="222.2" stroke-width="1.8"/><line x1="450.06" y1="226.7" x2="450.06" y2="224.2" stroke-width="1.8"/><line x1="503.04" y1="226.7" x2="503.04" y2="224.2" stroke-width="1.8"/><line x1="556.01" y1="226.7" x2="556.01" y2="224.2" stroke-width="1.8"/><line x1="608.98" y1="226.7" x2="608.98" y2="224.2" stroke-width="1.8"/><line x1="661.96" y1="226.7" x2="661.96" y2="224.2" stroke-width="1.8"/><line x1="409.45" y1="226.7" x2="413.95" y2="226.7" stroke-width="1.8"/><line x1="409.45" y1="205.03" x2="411.95" y2="205.03" stroke-width="1.8"/><line x1="409.45" y1="192.35" x2="411.95" y2="192.35" stroke-width="1.8"/><line x1="409.45" y1="183.35" x2="411.95" y2="183.35" stroke-width="1.8"/><line x1="409.45" y1="176.37" x2="411.95" y2="176.37" stroke-width="1.8"/><line x1="409.45" y1="170.67" x2="411.95" y2="170.67" stroke-width="1.8"/><line x1="409.45" y1="165.85" x2="411.95" y2="165.85" stroke-width="1.8"/><line x1="409.45" y1="161.68" x2="411.95" y2="161.68" stroke-width="1.8"/><line x1="409.45" y1="157.99" x2="411.95" y2="157.99" stroke-width="1.8"/><line x1="409.45" y1="154.7" x2="413.95" y2="154.7" stroke-width="1.8"/><line x1="409.45" y1="133.03" x2="411.95" y2="133.03" stroke-width="1.8"/><line x1="409.45" y1="120.35" x2="411.95" y2="120.35" stroke-width="1.8"/><line x1="409.45" y1="111.35" x2="411.95" y2="111.35" stroke-width="1.8"/><line x1="409.45" y1="104.37" x2="411.95" y2="104.37" stroke-width="1.8"/><line x1="409.45" y1="98.67" x2="411.95" y2="98.67" stroke-width="1.8"/><line x1="409.45" y1="93.85" x2="411.95" y2="93.85" stroke-width="1.8"/><line x1="409.45" y1="89.68" x2="411.95" y2="89.68" stroke-width="1.8"/><line x1="409.45" y1="85.99" x2="411.95" y2="85.99" stroke-width="1.8"/><line x1="409.45" y1="82.7" x2="413.95" y2="82.7" stroke-width="1.8"/><line x1="409.45" y1="61.03" x2="411.95" y2="61.03" stroke-width="1.8"/><line x1="409.45" y1="48.35" x2="411.95" y2="48.35" stroke-width="1.8"/><line x1="409.45" y1="39.35" x2="411.95" y2="39.35" stroke-width="1.8"/><line x1="409.45" y1="32.37" x2="411.95" y2="32.37" stroke-width="1.8"/><line x1="409.45" y1="26.67" x2="411.95" y2="26.67" stroke-width="1.8"/><line x1="409.45" y1="21.85" x2="411.95" y2="21.85" stroke-width="1.8"/><line x1="409.45" y1="17.68" x2="411.95" y2="17.68" stroke-width="1.8"/><line x1="409.45" y1="13.99" x2="411.95" y2="13.99" stroke-width="1.8"/><line x1="409.45" y1="10.7" x2="413.95" y2="10.7" stroke-width="1.8"/></g>
<text x="423.58" y="244" font-size="14.6" text-anchor="middle">0</text>
<text x="476.55" y="244" font-size="14.6" text-anchor="middle">150</text>
<text x="529.52" y="244" font-size="14.6" text-anchor="middle">300</text>
<text x="582.5" y="244" font-size="14.6" text-anchor="middle">450</text>
<text x="635.47" y="244" font-size="14.6" text-anchor="middle">600</text>
<text x="405.45" y="232" font-size="14.6" text-anchor="end">10<tspan font-size="7" dx="0.5" dy="-6.5">-</tspan><tspan font-size="10" dx="1.3" dy="0.7">6</tspan></text>
<text x="405.45" y="160" font-size="14.6" text-anchor="end">10<tspan font-size="7" dx="0.5" dy="-6.5">-</tspan><tspan font-size="10" dx="1.3" dy="0.7">5</tspan></text>
<text x="405.45" y="88" font-size="14.6" text-anchor="end">10<tspan font-size="7" dx="0.5" dy="-6.5">-</tspan><tspan font-size="10" dx="1.3" dy="0.7">4</tspan></text>
<text x="405.45" y="16" font-size="14.6" text-anchor="end">10<tspan font-size="7" dx="0.5" dy="-6.5">-</tspan><tspan font-size="10" dx="1.3" dy="0.7">3</tspan></text>
<text x="543.65" y="268.7" font-size="16.2" text-anchor="middle">Pipe diameter /mm</text>
<text transform="translate(366.8 118.35) rotate(-90)" font-size="16.26" text-anchor="middle">Pipe wall saturation potential /V</text>
<text x="421.5" y="35" font-size="18.5">(b)</text>
<rect x="601.1" y="160.4" width="61.4" height="39.7" fill="#fff" stroke="#484848" stroke-width="1.3"/>
<path d="M614.59 161.26L622.88 166.3L614.59 171.34Z" fill="#fff" stroke="#1e1e8e" stroke-width="1.4" stroke-linejoin="miter"/>
<line x1="605.4" y1="166.3" x2="629.1" y2="166.3" stroke="#1e1e8e" stroke-width="1.5"/>
<text transform="translate(635 170.7) scale(0.93 1)" font-size="12">10<tspan dx="2.6">°</tspan><tspan dx="-0.9">C</tspan></text>
<path d="M617.5 174.61L622.2 180.1L617.5 185.59L612.8 180.1Z" fill="#fff" stroke="#8a1f9c" stroke-width="1.4" stroke-linejoin="miter"/>
<line x1="605.4" y1="180.1" x2="629.1" y2="180.1" stroke="#8a1f9c" stroke-width="1.5"/>
<text transform="translate(635 184.5) scale(0.93 1)" font-size="12">25<tspan dx="2.6">°</tspan><tspan dx="-0.9">C</tspan></text>
<circle cx="617.5" cy="193.9" r="4.2" fill="#fff" stroke="#1f7a58" stroke-width="1.4"/>
<line x1="605.4" y1="193.9" x2="629.1" y2="193.9" stroke="#1f7a58" stroke-width="1.5"/>
<text transform="translate(635 198.3) scale(0.93 1)" font-size="12">40<tspan dx="2.6">°</tspan><tspan dx="-0.9">C</tspan></text>
<g stroke="#d4d4d4" stroke-width="0.9" stroke-dasharray="2.3 2.6"><line x1="60.4" y1="502.14" x2="327.1" y2="502.14"/><line x1="60.4" y1="497.31" x2="327.1" y2="497.31"/><line x1="60.4" y1="493.12" x2="327.1" y2="493.12"/><line x1="60.4" y1="489.43" x2="327.1" y2="489.43"/><line x1="60.4" y1="464.41" x2="327.1" y2="464.41"/><line x1="60.4" y1="451.71" x2="327.1" y2="451.71"/><line x1="60.4" y1="442.69" x2="327.1" y2="442.69"/><line x1="60.4" y1="435.7" x2="327.1" y2="435.7"/><line x1="60.4" y1="429.99" x2="327.1" y2="429.99"/><line x1="60.4" y1="425.16" x2="327.1" y2="425.16"/><line x1="60.4" y1="420.97" x2="327.1" y2="420.97"/><line x1="60.4" y1="417.28" x2="327.1" y2="417.28"/><line x1="60.4" y1="392.26" x2="327.1" y2="392.26"/><line x1="60.4" y1="379.56" x2="327.1" y2="379.56"/><line x1="60.4" y1="370.54" x2="327.1" y2="370.54"/><line x1="60.4" y1="363.55" x2="327.1" y2="363.55"/><line x1="60.4" y1="357.84" x2="327.1" y2="357.84"/><line x1="60.4" y1="353.01" x2="327.1" y2="353.01"/><line x1="60.4" y1="348.82" x2="327.1" y2="348.82"/><line x1="60.4" y1="345.13" x2="327.1" y2="345.13"/><line x1="60.4" y1="320.11" x2="327.1" y2="320.11"/><line x1="60.4" y1="307.41" x2="327.1" y2="307.41"/><line x1="60.4" y1="298.39" x2="327.1" y2="298.39"/></g>
<g stroke="#c4c4c4" stroke-width="0.9" stroke-dasharray="3.2 4.3"><line x1="60.4" y1="486.13" x2="327.1" y2="486.13"/><line x1="60.4" y1="413.98" x2="327.1" y2="413.98"/><line x1="60.4" y1="341.83" x2="327.1" y2="341.83"/><line x1="73.54" y1="506.85" x2="73.54" y2="292.4"/><line x1="126.58" y1="506.85" x2="126.58" y2="292.4"/><line x1="179.61" y1="506.85" x2="179.61" y2="292.4"/><line x1="232.64" y1="506.85" x2="232.64" y2="292.4"/><line x1="285.67" y1="506.85" x2="285.67" y2="292.4"/></g>
<path d="M85.08 478.64L92.48 483.14L85.08 487.64Z" fill="#fff" stroke="#1e1e8e" stroke-width="1.4" stroke-linejoin="miter"/><path d="M92.16 456.92L99.56 461.42L92.16 465.92Z" fill="#fff" stroke="#1e1e8e" stroke-width="1.4" stroke-linejoin="miter"/><path d="M99.23 444.22L106.63 448.72L99.23 453.22Z" fill="#fff" stroke="#1e1e8e" stroke-width="1.4" stroke-linejoin="miter"/><path d="M106.3 435.21L113.7 439.71L106.3 444.21Z" fill="#fff" stroke="#1e1e8e" stroke-width="1.4" stroke-linejoin="miter"/><path d="M113.37 428.21L120.77 432.71L113.37 437.21Z" fill="#fff" stroke="#1e1e8e" stroke-width="1.4" stroke-linejoin="miter"/><path d="M120.44 422.5L127.84 427L120.44 431.5Z" fill="#fff" stroke="#1e1e8e" stroke-width="1.4" stroke-linejoin="miter"/><path d="M127.51 417.67L134.91 422.17L127.51 426.67Z" fill="#fff" stroke="#1e1e8e" stroke-width="1.4" stroke-linejoin="miter"/><path d="M134.58 413.49L141.98 417.99L134.58 422.49Z" fill="#fff" stroke="#1e1e8e" stroke-width="1.4" stroke-linejoin="miter"/><path d="M141.65 409.8L149.05 414.3L141.65 418.8Z" fill="#fff" stroke="#1e1e8e" stroke-width="1.4" stroke-linejoin="miter"/><path d="M148.72 406.49L156.12 410.99L148.72 415.49Z" fill="#fff" stroke="#1e1e8e" stroke-width="1.4" stroke-linejoin="miter"/><path d="M155.79 403.51L163.19 408.01L155.79 412.51Z" fill="#fff" stroke="#1e1e8e" stroke-width="1.4" stroke-linejoin="miter"/><path d="M162.87 400.78L170.27 405.28L162.87 409.78Z" fill="#fff" stroke="#1e1e8e" stroke-width="1.4" stroke-linejoin="miter"/><path d="M169.94 398.27L177.34 402.77L169.94 407.27Z" fill="#fff" stroke="#1e1e8e" stroke-width="1.4" stroke-linejoin="miter"/><path d="M177.01 395.95L184.41 400.45L177.01 404.95Z" fill="#fff" stroke="#1e1e8e" stroke-width="1.4" stroke-linejoin="miter"/><path d="M184.08 393.79L191.48 398.29L184.08 402.79Z" fill="#fff" stroke="#1e1e8e" stroke-width="1.4" stroke-linejoin="miter"/><path d="M191.15 391.77L198.55 396.27L191.15 400.77Z" fill="#fff" stroke="#1e1e8e" stroke-width="1.4" stroke-linejoin="miter"/><path d="M198.22 389.87L205.62 394.37L198.22 398.87Z" fill="#fff" stroke="#1e1e8e" stroke-width="1.4" stroke-linejoin="miter"/><path d="M205.29 388.08L212.69 392.58L205.29 397.08Z" fill="#fff" stroke="#1e1e8e" stroke-width="1.4" stroke-linejoin="miter"/><path d="M212.36 386.38L219.76 390.88L212.36 395.38Z" fill="#fff" stroke="#1e1e8e" stroke-width="1.4" stroke-linejoin="miter"/><path d="M219.43 384.77L226.83 389.27L219.43 393.77Z" fill="#fff" stroke="#1e1e8e" stroke-width="1.4" stroke-linejoin="miter"/><path d="M226.51 383.25L233.91 387.75L226.51 392.25Z" fill="#fff" stroke="#1e1e8e" stroke-width="1.4" stroke-linejoin="miter"/><path d="M233.58 381.79L240.98 386.29L233.58 390.79Z" fill="#fff" stroke="#1e1e8e" stroke-width="1.4" stroke-linejoin="miter"/><path d="M240.65 380.4L248.05 384.9L240.65 389.4Z" fill="#fff" stroke="#1e1e8e" stroke-width="1.4" stroke-linejoin="miter"/><path d="M247.72 379.06L255.12 383.56L247.72 388.06Z" fill="#fff" stroke="#1e1e8e" stroke-width="1.4" stroke-linejoin="miter"/><path d="M254.79 377.78L262.19 382.28L254.79 386.78Z" fill="#fff" stroke="#1e1e8e" stroke-width="1.4" stroke-linejoin="miter"/><path d="M261.86 376.55L269.26 381.05L261.86 385.55Z" fill="#fff" stroke="#1e1e8e" stroke-width="1.4" stroke-linejoin="miter"/><path d="M268.93 375.37L276.33 379.87L268.93 384.37Z" fill="#fff" stroke="#1e1e8e" stroke-width="1.4" stroke-linejoin="miter"/><path d="M276 374.23L283.4 378.73L276 383.23Z" fill="#fff" stroke="#1e1e8e" stroke-width="1.4" stroke-linejoin="miter"/><path d="M283.07 373.13L290.47 377.63L283.07 382.13Z" fill="#fff" stroke="#1e1e8e" stroke-width="1.4" stroke-linejoin="miter"/><path d="M290.14 372.07L297.54 376.57L290.14 381.07Z" fill="#fff" stroke="#1e1e8e" stroke-width="1.4" stroke-linejoin="miter"/><path d="M297.22 371.04L304.62 375.54L297.22 380.04Z" fill="#fff" stroke="#1e1e8e" stroke-width="1.4" stroke-linejoin="miter"/><path d="M304.29 370.05L311.69 374.55L304.29 379.05Z" fill="#fff" stroke="#1e1e8e" stroke-width="1.4" stroke-linejoin="miter"/>
<path d="M87.68 483.14L94.76 461.42L101.83 448.72L108.9 439.71L115.97 432.71L123.04 427L130.11 422.17L137.18 417.99L144.25 414.3L151.32 410.99L158.39 408.01L165.47 405.28L172.54 402.77L179.61 400.45L186.68 398.29L193.75 396.27L200.82 394.37L207.89 392.58L214.96 390.88L222.03 389.27L229.11 387.75L236.18 386.29L243.25 384.9L250.32 383.56L257.39 382.28L264.46 381.05L271.53 379.87L278.6 378.73L285.67 377.63L292.74 376.57L299.82 375.54L306.89 374.55" fill="none" stroke="#1e1e8e" stroke-width="1.5" stroke-linejoin="round"/>
<path d="M87.68 463.16L91.88 468.06L87.68 472.96L83.48 468.06Z" fill="#fff" stroke="#8a1f9c" stroke-width="1.4" stroke-linejoin="miter"/><path d="M94.76 441.44L98.96 446.34L94.76 451.24L90.56 446.34Z" fill="#fff" stroke="#8a1f9c" stroke-width="1.4" stroke-linejoin="miter"/><path d="M101.83 428.74L106.03 433.64L101.83 438.54L97.63 433.64Z" fill="#fff" stroke="#8a1f9c" stroke-width="1.4" stroke-linejoin="miter"/><path d="M108.9 419.72L113.1 424.62L108.9 429.52L104.7 424.62Z" fill="#fff" stroke="#8a1f9c" stroke-width="1.4" stroke-linejoin="miter"/><path d="M115.97 412.73L120.17 417.63L115.97 422.53L111.77 417.63Z" fill="#fff" stroke="#8a1f9c" stroke-width="1.4" stroke-linejoin="miter"/><path d="M123.04 407.02L127.24 411.92L123.04 416.82L118.84 411.92Z" fill="#fff" stroke="#8a1f9c" stroke-width="1.4" stroke-linejoin="miter"/><path d="M130.11 402.19L134.31 407.09L130.11 411.99L125.91 407.09Z" fill="#fff" stroke="#8a1f9c" stroke-width="1.4" stroke-linejoin="miter"/><path d="M137.18 398L141.38 402.9L137.18 407.8L132.98 402.9Z" fill="#fff" stroke="#8a1f9c" stroke-width="1.4" stroke-linejoin="miter"/><path d="M144.25 394.31L148.45 399.21L144.25 404.11L140.05 399.21Z" fill="#fff" stroke="#8a1f9c" stroke-width="1.4" stroke-linejoin="miter"/><path d="M151.32 391.01L155.52 395.91L151.32 400.81L147.12 395.91Z" fill="#fff" stroke="#8a1f9c" stroke-width="1.4" stroke-linejoin="miter"/><path d="M158.39 388.03L162.59 392.93L158.39 397.83L154.19 392.93Z" fill="#fff" stroke="#8a1f9c" stroke-width="1.4" stroke-linejoin="miter"/><path d="M165.47 385.3L169.67 390.2L165.47 395.1L161.27 390.2Z" fill="#fff" stroke="#8a1f9c" stroke-width="1.4" stroke-linejoin="miter"/><path d="M172.54 382.79L176.74 387.69L172.54 392.59L168.34 387.69Z" fill="#fff" stroke="#8a1f9c" stroke-width="1.4" stroke-linejoin="miter"/><path d="M179.61 380.47L183.81 385.37L179.61 390.27L175.41 385.37Z" fill="#fff" stroke="#8a1f9c" stroke-width="1.4" stroke-linejoin="miter"/><path d="M186.68 378.31L190.88 383.21L186.68 388.11L182.48 383.21Z" fill="#fff" stroke="#8a1f9c" stroke-width="1.4" stroke-linejoin="miter"/><path d="M193.75 376.29L197.95 381.19L193.75 386.09L189.55 381.19Z" fill="#fff" stroke="#8a1f9c" stroke-width="1.4" stroke-linejoin="miter"/><path d="M200.82 374.39L205.02 379.29L200.82 384.19L196.62 379.29Z" fill="#fff" stroke="#8a1f9c" stroke-width="1.4" stroke-linejoin="miter"/><path d="M207.89 372.59L212.09 377.49L207.89 382.39L203.69 377.49Z" fill="#fff" stroke="#8a1f9c" stroke-width="1.4" stroke-linejoin="miter"/><path d="M214.96 370.9L219.16 375.8L214.96 380.7L210.76 375.8Z" fill="#fff" stroke="#8a1f9c" stroke-width="1.4" stroke-linejoin="miter"/><path d="M222.03 369.29L226.23 374.19L222.03 379.09L217.83 374.19Z" fill="#fff" stroke="#8a1f9c" stroke-width="1.4" stroke-linejoin="miter"/><path d="M229.11 367.76L233.31 372.66L229.11 377.56L224.91 372.66Z" fill="#fff" stroke="#8a1f9c" stroke-width="1.4" stroke-linejoin="miter"/><path d="M236.18 366.31L240.38 371.21L236.18 376.11L231.98 371.21Z" fill="#fff" stroke="#8a1f9c" stroke-width="1.4" stroke-linejoin="miter"/><path d="M243.25 364.91L247.45 369.81L243.25 374.71L239.05 369.81Z" fill="#fff" stroke="#8a1f9c" stroke-width="1.4" stroke-linejoin="miter"/><path d="M250.32 363.58L254.52 368.48L250.32 373.38L246.12 368.48Z" fill="#fff" stroke="#8a1f9c" stroke-width="1.4" stroke-linejoin="miter"/><path d="M257.39 362.3L261.59 367.2L257.39 372.1L253.19 367.2Z" fill="#fff" stroke="#8a1f9c" stroke-width="1.4" stroke-linejoin="miter"/><path d="M264.46 361.07L268.66 365.97L264.46 370.87L260.26 365.97Z" fill="#fff" stroke="#8a1f9c" stroke-width="1.4" stroke-linejoin="miter"/><path d="M271.53 359.89L275.73 364.79L271.53 369.69L267.33 364.79Z" fill="#fff" stroke="#8a1f9c" stroke-width="1.4" stroke-linejoin="miter"/><path d="M278.6 358.75L282.8 363.65L278.6 368.55L274.4 363.65Z" fill="#fff" stroke="#8a1f9c" stroke-width="1.4" stroke-linejoin="miter"/><path d="M285.67 357.65L289.87 362.55L285.67 367.45L281.47 362.55Z" fill="#fff" stroke="#8a1f9c" stroke-width="1.4" stroke-linejoin="miter"/><path d="M292.74 356.59L296.94 361.49L292.74 366.39L288.54 361.49Z" fill="#fff" stroke="#8a1f9c" stroke-width="1.4" stroke-linejoin="miter"/><path d="M299.82 355.56L304.02 360.46L299.82 365.36L295.62 360.46Z" fill="#fff" stroke="#8a1f9c" stroke-width="1.4" stroke-linejoin="miter"/><path d="M306.89 354.57L311.09 359.47L306.89 364.37L302.69 359.47Z" fill="#fff" stroke="#8a1f9c" stroke-width="1.4" stroke-linejoin="miter"/>
<path d="M87.68 468.06L94.76 446.34L101.83 433.64L108.9 424.62L115.97 417.63L123.04 411.92L130.11 407.09L137.18 402.9L144.25 399.21L151.32 395.91L158.39 392.93L165.47 390.2L172.54 387.69L179.61 385.37L186.68 383.21L193.75 381.19L200.82 379.29L207.89 377.49L214.96 375.8L222.03 374.19L229.11 372.66L236.18 371.21L243.25 369.81L250.32 368.48L257.39 367.2L264.46 365.97L271.53 364.79L278.6 363.65L285.67 362.55L292.74 361.49L299.82 360.46L306.89 359.47" fill="none" stroke="#8a1f9c" stroke-width="1.5" stroke-linejoin="round"/>
<circle cx="87.68" cy="439.14" r="3.75" fill="#fff" stroke="#1f7a58" stroke-width="1.4"/><circle cx="94.76" cy="417.42" r="3.75" fill="#fff" stroke="#1f7a58" stroke-width="1.4"/><circle cx="101.83" cy="404.72" r="3.75" fill="#fff" stroke="#1f7a58" stroke-width="1.4"/><circle cx="108.9" cy="395.7" r="3.75" fill="#fff" stroke="#1f7a58" stroke-width="1.4"/><circle cx="115.97" cy="388.71" r="3.75" fill="#fff" stroke="#1f7a58" stroke-width="1.4"/><circle cx="123.04" cy="383" r="3.75" fill="#fff" stroke="#1f7a58" stroke-width="1.4"/><circle cx="130.11" cy="378.17" r="3.75" fill="#fff" stroke="#1f7a58" stroke-width="1.4"/><circle cx="137.18" cy="373.98" r="3.75" fill="#fff" stroke="#1f7a58" stroke-width="1.4"/><circle cx="144.25" cy="370.29" r="3.75" fill="#fff" stroke="#1f7a58" stroke-width="1.4"/><circle cx="151.32" cy="366.99" r="3.75" fill="#fff" stroke="#1f7a58" stroke-width="1.4"/><circle cx="158.39" cy="364" r="3.75" fill="#fff" stroke="#1f7a58" stroke-width="1.4"/><circle cx="165.47" cy="361.28" r="3.75" fill="#fff" stroke="#1f7a58" stroke-width="1.4"/><circle cx="172.54" cy="358.77" r="3.75" fill="#fff" stroke="#1f7a58" stroke-width="1.4"/><circle cx="179.61" cy="356.45" r="3.75" fill="#fff" stroke="#1f7a58" stroke-width="1.4"/><circle cx="186.68" cy="354.29" r="3.75" fill="#fff" stroke="#1f7a58" stroke-width="1.4"/><circle cx="193.75" cy="352.26" r="3.75" fill="#fff" stroke="#1f7a58" stroke-width="1.4"/><circle cx="200.82" cy="350.36" r="3.75" fill="#fff" stroke="#1f7a58" stroke-width="1.4"/><circle cx="207.89" cy="348.57" r="3.75" fill="#fff" stroke="#1f7a58" stroke-width="1.4"/><circle cx="214.96" cy="346.88" r="3.75" fill="#fff" stroke="#1f7a58" stroke-width="1.4"/><circle cx="222.03" cy="345.27" r="3.75" fill="#fff" stroke="#1f7a58" stroke-width="1.4"/><circle cx="229.11" cy="343.74" r="3.75" fill="#fff" stroke="#1f7a58" stroke-width="1.4"/><circle cx="236.18" cy="342.29" r="3.75" fill="#fff" stroke="#1f7a58" stroke-width="1.4"/><circle cx="243.25" cy="340.89" r="3.75" fill="#fff" stroke="#1f7a58" stroke-width="1.4"/><circle cx="250.32" cy="339.56" r="3.75" fill="#fff" stroke="#1f7a58" stroke-width="1.4"/><circle cx="257.39" cy="338.28" r="3.75" fill="#fff" stroke="#1f7a58" stroke-width="1.4"/><circle cx="264.46" cy="337.05" r="3.75" fill="#fff" stroke="#1f7a58" stroke-width="1.4"/><circle cx="271.53" cy="335.87" r="3.75" fill="#fff" stroke="#1f7a58" stroke-width="1.4"/><circle cx="278.6" cy="334.73" r="3.75" fill="#fff" stroke="#1f7a58" stroke-width="1.4"/><circle cx="285.67" cy="333.63" r="3.75" fill="#fff" stroke="#1f7a58" stroke-width="1.4"/><circle cx="292.74" cy="332.57" r="3.75" fill="#fff" stroke="#1f7a58" stroke-width="1.4"/><circle cx="299.82" cy="331.54" r="3.75" fill="#fff" stroke="#1f7a58" stroke-width="1.4"/><circle cx="306.89" cy="330.54" r="3.75" fill="#fff" stroke="#1f7a58" stroke-width="1.4"/>
<path d="M87.68 439.14L94.76 417.42L101.83 404.72L108.9 395.7L115.97 388.71L123.04 383L130.11 378.17L137.18 373.98L144.25 370.29L151.32 366.99L158.39 364L165.47 361.28L172.54 358.77L179.61 356.45L186.68 354.29L193.75 352.26L200.82 350.36L207.89 348.57L214.96 346.88L222.03 345.27L229.11 343.74L236.18 342.29L243.25 340.89L250.32 339.56L257.39 338.28L264.46 337.05L271.53 335.87L278.6 334.73L285.67 333.63L292.74 332.57L299.82 331.54L306.89 330.54" fill="none" stroke="#1f7a58" stroke-width="1.5" stroke-linejoin="round"/>
<rect x="59.4" y="291.4" width="268.7" height="216.45" fill="none" stroke="#333333" stroke-width="2" stroke-linejoin="round"/>
<g stroke="#333333"><line x1="73.54" y1="507.85" x2="73.54" y2="503.35" stroke-width="1.8"/><line x1="126.58" y1="507.85" x2="126.58" y2="503.35" stroke-width="1.8"/><line x1="179.61" y1="507.85" x2="179.61" y2="503.35" stroke-width="1.8"/><line x1="232.64" y1="507.85" x2="232.64" y2="503.35" stroke-width="1.8"/><line x1="285.67" y1="507.85" x2="285.67" y2="503.35" stroke-width="1.8"/><line x1="100.06" y1="507.85" x2="100.06" y2="505.35" stroke-width="1.8"/><line x1="153.09" y1="507.85" x2="153.09" y2="505.35" stroke-width="1.8"/><line x1="206.12" y1="507.85" x2="206.12" y2="505.35" stroke-width="1.8"/><line x1="259.16" y1="507.85" x2="259.16" y2="505.35" stroke-width="1.8"/><line x1="312.19" y1="507.85" x2="312.19" y2="505.35" stroke-width="1.8"/><line x1="59.4" y1="507.85" x2="61.9" y2="507.85" stroke-width="1.8"/><line x1="59.4" y1="502.14" x2="61.9" y2="502.14" stroke-width="1.8"/><line x1="59.4" y1="497.31" x2="61.9" y2="497.31" stroke-width="1.8"/><line x1="59.4" y1="493.12" x2="61.9" y2="493.12" stroke-width="1.8"/><line x1="59.4" y1="489.43" x2="61.9" y2="489.43" stroke-width="1.8"/><line x1="59.4" y1="486.13" x2="63.9" y2="486.13" stroke-width="1.8"/><line x1="59.4" y1="464.41" x2="61.9" y2="464.41" stroke-width="1.8"/><line x1="59.4" y1="451.71" x2="61.9" y2="451.71" stroke-width="1.8"/><line x1="59.4" y1="442.69" x2="61.9" y2="442.69" stroke-width="1.8"/><line x1="59.4" y1="435.7" x2="61.9" y2="435.7" stroke-width="1.8"/><line x1="59.4" y1="429.99" x2="61.9" y2="429.99" stroke-width="1.8"/><line x1="59.4" y1="425.16" x2="61.9" y2="425.16" stroke-width="1.8"/><line x1="59.4" y1="420.97" x2="61.9" y2="420.97" stroke-width="1.8"/><line x1="59.4" y1="417.28" x2="61.9" y2="417.28" stroke-width="1.8"/><line x1="59.4" y1="413.98" x2="63.9" y2="413.98" stroke-width="1.8"/><line x1="59.4" y1="392.26" x2="61.9" y2="392.26" stroke-width="1.8"/><line x1="59.4" y1="379.56" x2="61.9" y2="379.56" stroke-width="1.8"/><line x1="59.4" y1="370.54" x2="61.9" y2="370.54" stroke-width="1.8"/><line x1="59.4" y1="363.55" x2="61.9" y2="363.55" stroke-width="1.8"/><line x1="59.4" y1="357.84" x2="61.9" y2="357.84" stroke-width="1.8"/><line x1="59.4" y1="353.01" x2="61.9" y2="353.01" stroke-width="1.8"/><line x1="59.4" y1="348.82" x2="61.9" y2="348.82" stroke-width="1.8"/><line x1="59.4" y1="345.13" x2="61.9" y2="345.13" stroke-width="1.8"/><line x1="59.4" y1="341.83" x2="63.9" y2="341.83" stroke-width="1.8"/><line x1="59.4" y1="320.11" x2="61.9" y2="320.11" stroke-width="1.8"/><line x1="59.4" y1="307.41" x2="61.9" y2="307.41" stroke-width="1.8"/><line x1="59.4" y1="298.39" x2="61.9" y2="298.39" stroke-width="1.8"/><line x1="59.4" y1="291.4" x2="61.9" y2="291.4" stroke-width="1.8"/></g>
<text x="73.54" y="525.15" font-size="14.6" text-anchor="middle">0</text>
<text x="126.58" y="525.15" font-size="14.6" text-anchor="middle">150</text>
<text x="179.61" y="525.15" font-size="14.6" text-anchor="middle">300</text>
<text x="232.64" y="525.15" font-size="14.6" text-anchor="middle">450</text>
<text x="285.67" y="525.15" font-size="14.6" text-anchor="middle">600</text>
<text x="55.4" y="491.43" font-size="14.6" text-anchor="end">10<tspan font-size="7" dx="0.5" dy="-6.5">-</tspan><tspan font-size="10" dx="1.3" dy="0.7">8</tspan></text>
<text x="55.4" y="419.28" font-size="14.6" text-anchor="end">10<tspan font-size="7" dx="0.5" dy="-6.5">-</tspan><tspan font-size="10" dx="1.3" dy="0.7">7</tspan></text>
<text x="55.4" y="347.13" font-size="14.6" text-anchor="end">10<tspan font-size="7" dx="0.5" dy="-6.5">-</tspan><tspan font-size="10" dx="1.3" dy="0.7">6</tspan></text>
<text x="193.75" y="549.5" font-size="16.2" text-anchor="middle">Pipe diameter /mm</text>
<text transform="translate(17.2 399.15) rotate(-90)" font-size="18.55" text-anchor="middle">Saturation rush current /A</text>
<text x="69" y="316" font-size="18.5">(c)</text>
<rect x="245.8" y="442.5" width="66.1" height="40.1" fill="#fff" stroke="#484848" stroke-width="1.3"/>
<path d="M259.59 443.66L267.88 448.7L259.59 453.74Z" fill="#fff" stroke="#1e1e8e" stroke-width="1.4" stroke-linejoin="miter"/>
<line x1="250.4" y1="448.7" x2="274.5" y2="448.7" stroke="#1e1e8e" stroke-width="1.5"/>
<text transform="translate(279.3 453.1) scale(0.93 1)" font-size="12">2 MPa</text>
<path d="M262.5 457.01L267.2 462.5L262.5 467.99L257.8 462.5Z" fill="#fff" stroke="#8a1f9c" stroke-width="1.4" stroke-linejoin="miter"/>
<line x1="250.4" y1="462.5" x2="274.5" y2="462.5" stroke="#8a1f9c" stroke-width="1.5"/>
<text transform="translate(279.3 466.9) scale(0.93 1)" font-size="12">5 MPa</text>
<circle cx="262.5" cy="476.3" r="4.2" fill="#fff" stroke="#1f7a58" stroke-width="1.4"/>
<line x1="250.4" y1="476.3" x2="274.5" y2="476.3" stroke="#1f7a58" stroke-width="1.5"/>
<text transform="translate(279.3 480.7) scale(0.93 1)" font-size="12">8 MPa</text>
<g stroke="#d4d4d4" stroke-width="0.9" stroke-dasharray="2.3 2.6"><line x1="413.5" y1="502.13" x2="680.3" y2="502.13"/><line x1="413.5" y1="496.38" x2="680.3" y2="496.38"/><line x1="413.5" y1="491.4" x2="680.3" y2="491.4"/><line x1="413.5" y1="487.01" x2="680.3" y2="487.01"/><line x1="413.5" y1="457.22" x2="680.3" y2="457.22"/><line x1="413.5" y1="442.1" x2="680.3" y2="442.1"/><line x1="413.5" y1="431.37" x2="680.3" y2="431.37"/><line x1="413.5" y1="423.05" x2="680.3" y2="423.05"/><line x1="413.5" y1="416.25" x2="680.3" y2="416.25"/><line x1="413.5" y1="410.5" x2="680.3" y2="410.5"/><line x1="413.5" y1="405.52" x2="680.3" y2="405.52"/><line x1="413.5" y1="401.13" x2="680.3" y2="401.13"/><line x1="413.5" y1="371.34" x2="680.3" y2="371.34"/><line x1="413.5" y1="356.22" x2="680.3" y2="356.22"/><line x1="413.5" y1="345.49" x2="680.3" y2="345.49"/><line x1="413.5" y1="337.17" x2="680.3" y2="337.17"/><line x1="413.5" y1="330.37" x2="680.3" y2="330.37"/><line x1="413.5" y1="324.62" x2="680.3" y2="324.62"/><line x1="413.5" y1="319.64" x2="680.3" y2="319.64"/><line x1="413.5" y1="315.25" x2="680.3" y2="315.25"/></g>
<g stroke="#c4c4c4" stroke-width="0.9" stroke-dasharray="3.2 4.3"><line x1="413.5" y1="483.08" x2="680.3" y2="483.08"/><line x1="413.5" y1="397.2" x2="680.3" y2="397.2"/><line x1="413.5" y1="311.32" x2="680.3" y2="311.32"/><line x1="426.65" y1="507.7" x2="426.65" y2="293.3"/><line x1="479.7" y1="507.7" x2="479.7" y2="293.3"/><line x1="532.75" y1="507.7" x2="532.75" y2="293.3"/><line x1="585.81" y1="507.7" x2="585.81" y2="293.3"/><line x1="638.86" y1="507.7" x2="638.86" y2="293.3"/></g>
<path d="M438.19 461.05L445.59 465.55L438.19 470.05Z" fill="#fff" stroke="#1e1e8e" stroke-width="1.4" stroke-linejoin="miter"/><path d="M445.27 435.19L452.67 439.69L445.27 444.19Z" fill="#fff" stroke="#1e1e8e" stroke-width="1.4" stroke-linejoin="miter"/><path d="M452.34 420.07L459.74 424.57L452.34 429.07Z" fill="#fff" stroke="#1e1e8e" stroke-width="1.4" stroke-linejoin="miter"/><path d="M459.42 409.34L466.82 413.84L459.42 418.34Z" fill="#fff" stroke="#1e1e8e" stroke-width="1.4" stroke-linejoin="miter"/><path d="M466.49 401.02L473.89 405.52L466.49 410.02Z" fill="#fff" stroke="#1e1e8e" stroke-width="1.4" stroke-linejoin="miter"/><path d="M473.56 394.22L480.96 398.72L473.56 403.22Z" fill="#fff" stroke="#1e1e8e" stroke-width="1.4" stroke-linejoin="miter"/><path d="M480.64 388.47L488.04 392.97L480.64 397.47Z" fill="#fff" stroke="#1e1e8e" stroke-width="1.4" stroke-linejoin="miter"/><path d="M487.71 383.49L495.11 387.99L487.71 392.49Z" fill="#fff" stroke="#1e1e8e" stroke-width="1.4" stroke-linejoin="miter"/><path d="M494.78 379.1L502.18 383.6L494.78 388.1Z" fill="#fff" stroke="#1e1e8e" stroke-width="1.4" stroke-linejoin="miter"/><path d="M501.86 375.17L509.26 379.67L501.86 384.17Z" fill="#fff" stroke="#1e1e8e" stroke-width="1.4" stroke-linejoin="miter"/><path d="M508.93 371.61L516.33 376.11L508.93 380.61Z" fill="#fff" stroke="#1e1e8e" stroke-width="1.4" stroke-linejoin="miter"/><path d="M516.01 368.37L523.41 372.87L516.01 377.37Z" fill="#fff" stroke="#1e1e8e" stroke-width="1.4" stroke-linejoin="miter"/><path d="M523.08 365.38L530.48 369.88L523.08 374.38Z" fill="#fff" stroke="#1e1e8e" stroke-width="1.4" stroke-linejoin="miter"/><path d="M530.15 362.62L537.55 367.12L530.15 371.62Z" fill="#fff" stroke="#1e1e8e" stroke-width="1.4" stroke-linejoin="miter"/><path d="M537.23 360.04L544.63 364.54L537.23 369.04Z" fill="#fff" stroke="#1e1e8e" stroke-width="1.4" stroke-linejoin="miter"/><path d="M544.3 357.64L551.7 362.14L544.3 366.64Z" fill="#fff" stroke="#1e1e8e" stroke-width="1.4" stroke-linejoin="miter"/><path d="M551.37 355.38L558.77 359.88L551.37 364.38Z" fill="#fff" stroke="#1e1e8e" stroke-width="1.4" stroke-linejoin="miter"/><path d="M558.45 353.24L565.85 357.74L558.45 362.24Z" fill="#fff" stroke="#1e1e8e" stroke-width="1.4" stroke-linejoin="miter"/><path d="M565.52 351.23L572.92 355.73L565.52 360.23Z" fill="#fff" stroke="#1e1e8e" stroke-width="1.4" stroke-linejoin="miter"/><path d="M572.59 349.31L579.99 353.81L572.59 358.31Z" fill="#fff" stroke="#1e1e8e" stroke-width="1.4" stroke-linejoin="miter"/><path d="M579.67 347.5L587.07 352L579.67 356.5Z" fill="#fff" stroke="#1e1e8e" stroke-width="1.4" stroke-linejoin="miter"/><path d="M586.74 345.76L594.14 350.26L586.74 354.76Z" fill="#fff" stroke="#1e1e8e" stroke-width="1.4" stroke-linejoin="miter"/><path d="M593.82 344.1L601.22 348.6L593.82 353.1Z" fill="#fff" stroke="#1e1e8e" stroke-width="1.4" stroke-linejoin="miter"/><path d="M600.89 342.51L608.29 347.01L600.89 351.51Z" fill="#fff" stroke="#1e1e8e" stroke-width="1.4" stroke-linejoin="miter"/><path d="M607.96 340.99L615.36 345.49L607.96 349.99Z" fill="#fff" stroke="#1e1e8e" stroke-width="1.4" stroke-linejoin="miter"/><path d="M615.04 339.53L622.44 344.03L615.04 348.53Z" fill="#fff" stroke="#1e1e8e" stroke-width="1.4" stroke-linejoin="miter"/><path d="M622.11 338.12L629.51 342.62L622.11 347.12Z" fill="#fff" stroke="#1e1e8e" stroke-width="1.4" stroke-linejoin="miter"/><path d="M629.18 336.77L636.58 341.27L629.18 345.77Z" fill="#fff" stroke="#1e1e8e" stroke-width="1.4" stroke-linejoin="miter"/><path d="M636.26 335.46L643.66 339.96L636.26 344.46Z" fill="#fff" stroke="#1e1e8e" stroke-width="1.4" stroke-linejoin="miter"/><path d="M643.33 334.19L650.73 338.69L643.33 343.19Z" fill="#fff" stroke="#1e1e8e" stroke-width="1.4" stroke-linejoin="miter"/><path d="M650.41 332.97L657.81 337.47L650.41 341.97Z" fill="#fff" stroke="#1e1e8e" stroke-width="1.4" stroke-linejoin="miter"/><path d="M657.48 331.79L664.88 336.29L657.48 340.79Z" fill="#fff" stroke="#1e1e8e" stroke-width="1.4" stroke-linejoin="miter"/>
<path d="M440.79 465.55L447.87 439.69L454.94 424.57L462.02 413.84L469.09 405.52L476.16 398.72L483.24 392.97L490.31 387.99L497.38 383.6L504.46 379.67L511.53 376.11L518.61 372.87L525.68 369.88L532.75 367.12L539.83 364.54L546.9 362.14L553.97 359.88L561.05 357.74L568.12 355.73L575.19 353.81L582.27 352L589.34 350.26L596.42 348.6L603.49 347.01L610.56 345.49L617.64 344.03L624.71 342.62L631.78 341.27L638.86 339.96L645.93 338.69L653.01 337.47L660.08 336.29" fill="none" stroke="#1e1e8e" stroke-width="1.5" stroke-linejoin="round"/>
<path d="M440.79 456.25L444.99 461.15L440.79 466.05L436.59 461.15Z" fill="#fff" stroke="#8a1f9c" stroke-width="1.4" stroke-linejoin="miter"/><path d="M447.87 430.4L452.07 435.3L447.87 440.2L443.67 435.3Z" fill="#fff" stroke="#8a1f9c" stroke-width="1.4" stroke-linejoin="miter"/><path d="M454.94 415.28L459.14 420.18L454.94 425.08L450.74 420.18Z" fill="#fff" stroke="#8a1f9c" stroke-width="1.4" stroke-linejoin="miter"/><path d="M462.02 404.55L466.22 409.45L462.02 414.35L457.82 409.45Z" fill="#fff" stroke="#8a1f9c" stroke-width="1.4" stroke-linejoin="miter"/><path d="M469.09 396.23L473.29 401.13L469.09 406.03L464.89 401.13Z" fill="#fff" stroke="#8a1f9c" stroke-width="1.4" stroke-linejoin="miter"/><path d="M476.16 389.43L480.36 394.33L476.16 399.23L471.96 394.33Z" fill="#fff" stroke="#8a1f9c" stroke-width="1.4" stroke-linejoin="miter"/><path d="M483.24 383.68L487.44 388.58L483.24 393.48L479.04 388.58Z" fill="#fff" stroke="#8a1f9c" stroke-width="1.4" stroke-linejoin="miter"/><path d="M490.31 378.7L494.51 383.6L490.31 388.5L486.11 383.6Z" fill="#fff" stroke="#8a1f9c" stroke-width="1.4" stroke-linejoin="miter"/><path d="M497.38 374.3L501.58 379.2L497.38 384.1L493.18 379.2Z" fill="#fff" stroke="#8a1f9c" stroke-width="1.4" stroke-linejoin="miter"/><path d="M504.46 370.37L508.66 375.27L504.46 380.17L500.26 375.27Z" fill="#fff" stroke="#8a1f9c" stroke-width="1.4" stroke-linejoin="miter"/><path d="M511.53 366.82L515.73 371.72L511.53 376.62L507.33 371.72Z" fill="#fff" stroke="#8a1f9c" stroke-width="1.4" stroke-linejoin="miter"/><path d="M518.61 363.57L522.81 368.47L518.61 373.37L514.41 368.47Z" fill="#fff" stroke="#8a1f9c" stroke-width="1.4" stroke-linejoin="miter"/><path d="M525.68 360.59L529.88 365.49L525.68 370.39L521.48 365.49Z" fill="#fff" stroke="#8a1f9c" stroke-width="1.4" stroke-linejoin="miter"/><path d="M532.75 357.82L536.95 362.72L532.75 367.62L528.55 362.72Z" fill="#fff" stroke="#8a1f9c" stroke-width="1.4" stroke-linejoin="miter"/><path d="M539.83 355.25L544.03 360.15L539.83 365.05L535.63 360.15Z" fill="#fff" stroke="#8a1f9c" stroke-width="1.4" stroke-linejoin="miter"/><path d="M546.9 352.84L551.1 357.74L546.9 362.64L542.7 357.74Z" fill="#fff" stroke="#8a1f9c" stroke-width="1.4" stroke-linejoin="miter"/><path d="M553.97 350.58L558.17 355.48L553.97 360.38L549.77 355.48Z" fill="#fff" stroke="#8a1f9c" stroke-width="1.4" stroke-linejoin="miter"/><path d="M561.05 348.45L565.25 353.35L561.05 358.25L556.85 353.35Z" fill="#fff" stroke="#8a1f9c" stroke-width="1.4" stroke-linejoin="miter"/><path d="M568.12 346.44L572.32 351.34L568.12 356.24L563.92 351.34Z" fill="#fff" stroke="#8a1f9c" stroke-width="1.4" stroke-linejoin="miter"/><path d="M575.19 344.52L579.39 349.42L575.19 354.32L570.99 349.42Z" fill="#fff" stroke="#8a1f9c" stroke-width="1.4" stroke-linejoin="miter"/><path d="M582.27 342.7L586.47 347.6L582.27 352.5L578.07 347.6Z" fill="#fff" stroke="#8a1f9c" stroke-width="1.4" stroke-linejoin="miter"/><path d="M589.34 340.97L593.54 345.87L589.34 350.77L585.14 345.87Z" fill="#fff" stroke="#8a1f9c" stroke-width="1.4" stroke-linejoin="miter"/><path d="M596.42 339.31L600.62 344.21L596.42 349.11L592.22 344.21Z" fill="#fff" stroke="#8a1f9c" stroke-width="1.4" stroke-linejoin="miter"/><path d="M603.49 337.72L607.69 342.62L603.49 347.52L599.29 342.62Z" fill="#fff" stroke="#8a1f9c" stroke-width="1.4" stroke-linejoin="miter"/><path d="M610.56 336.2L614.76 341.1L610.56 346L606.36 341.1Z" fill="#fff" stroke="#8a1f9c" stroke-width="1.4" stroke-linejoin="miter"/><path d="M617.64 334.74L621.84 339.64L617.64 344.54L613.44 339.64Z" fill="#fff" stroke="#8a1f9c" stroke-width="1.4" stroke-linejoin="miter"/><path d="M624.71 333.33L628.91 338.23L624.71 343.13L620.51 338.23Z" fill="#fff" stroke="#8a1f9c" stroke-width="1.4" stroke-linejoin="miter"/><path d="M631.78 331.97L635.98 336.87L631.78 341.77L627.58 336.87Z" fill="#fff" stroke="#8a1f9c" stroke-width="1.4" stroke-linejoin="miter"/><path d="M638.86 330.66L643.06 335.56L638.86 340.46L634.66 335.56Z" fill="#fff" stroke="#8a1f9c" stroke-width="1.4" stroke-linejoin="miter"/><path d="M645.93 329.4L650.13 334.3L645.93 339.2L641.73 334.3Z" fill="#fff" stroke="#8a1f9c" stroke-width="1.4" stroke-linejoin="miter"/><path d="M653.01 328.18L657.21 333.08L653.01 337.98L648.81 333.08Z" fill="#fff" stroke="#8a1f9c" stroke-width="1.4" stroke-linejoin="miter"/><path d="M660.08 326.99L664.28 331.89L660.08 336.79L655.88 331.89Z" fill="#fff" stroke="#8a1f9c" stroke-width="1.4" stroke-linejoin="miter"/>
<path d="M440.79 461.15L447.87 435.3L454.94 420.18L462.02 409.45L469.09 401.13L476.16 394.33L483.24 388.58L490.31 383.6L497.38 379.2L504.46 375.27L511.53 371.72L518.61 368.47L525.68 365.49L532.75 362.72L539.83 360.15L546.9 357.74L553.97 355.48L561.05 353.35L568.12 351.34L575.19 349.42L582.27 347.6L589.34 345.87L596.42 344.21L603.49 342.62L610.56 341.1L617.64 339.64L624.71 338.23L631.78 336.87L638.86 335.56L645.93 334.3L653.01 333.08L660.08 331.89" fill="none" stroke="#8a1f9c" stroke-width="1.5" stroke-linejoin="round"/>
<circle cx="440.79" cy="457.98" r="3.75" fill="#fff" stroke="#1f7a58" stroke-width="1.4"/><circle cx="447.87" cy="432.13" r="3.75" fill="#fff" stroke="#1f7a58" stroke-width="1.4"/><circle cx="454.94" cy="417" r="3.75" fill="#fff" stroke="#1f7a58" stroke-width="1.4"/><circle cx="462.02" cy="406.27" r="3.75" fill="#fff" stroke="#1f7a58" stroke-width="1.4"/><circle cx="469.09" cy="397.95" r="3.75" fill="#fff" stroke="#1f7a58" stroke-width="1.4"/><circle cx="476.16" cy="391.15" r="3.75" fill="#fff" stroke="#1f7a58" stroke-width="1.4"/><circle cx="483.24" cy="385.4" r="3.75" fill="#fff" stroke="#1f7a58" stroke-width="1.4"/><circle cx="490.31" cy="380.42" r="3.75" fill="#fff" stroke="#1f7a58" stroke-width="1.4"/><circle cx="497.38" cy="376.03" r="3.75" fill="#fff" stroke="#1f7a58" stroke-width="1.4"/><circle cx="504.46" cy="372.1" r="3.75" fill="#fff" stroke="#1f7a58" stroke-width="1.4"/><circle cx="511.53" cy="368.54" r="3.75" fill="#fff" stroke="#1f7a58" stroke-width="1.4"/><circle cx="518.61" cy="365.3" r="3.75" fill="#fff" stroke="#1f7a58" stroke-width="1.4"/><circle cx="525.68" cy="362.31" r="3.75" fill="#fff" stroke="#1f7a58" stroke-width="1.4"/><circle cx="532.75" cy="359.55" r="3.75" fill="#fff" stroke="#1f7a58" stroke-width="1.4"/><circle cx="539.83" cy="356.98" r="3.75" fill="#fff" stroke="#1f7a58" stroke-width="1.4"/><circle cx="546.9" cy="354.57" r="3.75" fill="#fff" stroke="#1f7a58" stroke-width="1.4"/><circle cx="553.97" cy="352.31" r="3.75" fill="#fff" stroke="#1f7a58" stroke-width="1.4"/><circle cx="561.05" cy="350.18" r="3.75" fill="#fff" stroke="#1f7a58" stroke-width="1.4"/><circle cx="568.12" cy="348.16" r="3.75" fill="#fff" stroke="#1f7a58" stroke-width="1.4"/><circle cx="575.19" cy="346.25" r="3.75" fill="#fff" stroke="#1f7a58" stroke-width="1.4"/><circle cx="582.27" cy="344.43" r="3.75" fill="#fff" stroke="#1f7a58" stroke-width="1.4"/><circle cx="589.34" cy="342.69" r="3.75" fill="#fff" stroke="#1f7a58" stroke-width="1.4"/><circle cx="596.42" cy="341.03" r="3.75" fill="#fff" stroke="#1f7a58" stroke-width="1.4"/><circle cx="603.49" cy="339.45" r="3.75" fill="#fff" stroke="#1f7a58" stroke-width="1.4"/><circle cx="610.56" cy="337.92" r="3.75" fill="#fff" stroke="#1f7a58" stroke-width="1.4"/><circle cx="617.64" cy="336.46" r="3.75" fill="#fff" stroke="#1f7a58" stroke-width="1.4"/><circle cx="624.71" cy="335.05" r="3.75" fill="#fff" stroke="#1f7a58" stroke-width="1.4"/><circle cx="631.78" cy="333.7" r="3.75" fill="#fff" stroke="#1f7a58" stroke-width="1.4"/><circle cx="638.86" cy="332.39" r="3.75" fill="#fff" stroke="#1f7a58" stroke-width="1.4"/><circle cx="645.93" cy="331.12" r="3.75" fill="#fff" stroke="#1f7a58" stroke-width="1.4"/><circle cx="653.01" cy="329.9" r="3.75" fill="#fff" stroke="#1f7a58" stroke-width="1.4"/><circle cx="660.08" cy="328.72" r="3.75" fill="#fff" stroke="#1f7a58" stroke-width="1.4"/>
<path d="M440.79 457.98L447.87 432.13L454.94 417L462.02 406.27L469.09 397.95L476.16 391.15L483.24 385.4L490.31 380.42L497.38 376.03L504.46 372.1L511.53 368.54L518.61 365.3L525.68 362.31L532.75 359.55L539.83 356.98L546.9 354.57L553.97 352.31L561.05 350.18L568.12 348.16L575.19 346.25L582.27 344.43L589.34 342.69L596.42 341.03L603.49 339.45L610.56 337.92L617.64 336.46L624.71 335.05L631.78 333.7L638.86 332.39L645.93 331.12L653.01 329.9L660.08 328.72" fill="none" stroke="#1f7a58" stroke-width="1.5" stroke-linejoin="round"/>
<rect x="412.5" y="292.3" width="268.8" height="216.4" fill="none" stroke="#333333" stroke-width="2" stroke-linejoin="round"/>
<g stroke="#333333"><line x1="426.65" y1="508.7" x2="426.65" y2="504.2" stroke-width="1.8"/><line x1="479.7" y1="508.7" x2="479.7" y2="504.2" stroke-width="1.8"/><line x1="532.75" y1="508.7" x2="532.75" y2="504.2" stroke-width="1.8"/><line x1="585.81" y1="508.7" x2="585.81" y2="504.2" stroke-width="1.8"/><line x1="638.86" y1="508.7" x2="638.86" y2="504.2" stroke-width="1.8"/><line x1="453.17" y1="508.7" x2="453.17" y2="506.2" stroke-width="1.8"/><line x1="506.23" y1="508.7" x2="506.23" y2="506.2" stroke-width="1.8"/><line x1="559.28" y1="508.7" x2="559.28" y2="506.2" stroke-width="1.8"/><line x1="612.33" y1="508.7" x2="612.33" y2="506.2" stroke-width="1.8"/><line x1="665.38" y1="508.7" x2="665.38" y2="506.2" stroke-width="1.8"/><line x1="412.5" y1="502.13" x2="415" y2="502.13" stroke-width="1.8"/><line x1="412.5" y1="496.38" x2="415" y2="496.38" stroke-width="1.8"/><line x1="412.5" y1="491.4" x2="415" y2="491.4" stroke-width="1.8"/><line x1="412.5" y1="487.01" x2="415" y2="487.01" stroke-width="1.8"/><line x1="412.5" y1="483.08" x2="417" y2="483.08" stroke-width="1.8"/><line x1="412.5" y1="457.22" x2="415" y2="457.22" stroke-width="1.8"/><line x1="412.5" y1="442.1" x2="415" y2="442.1" stroke-width="1.8"/><line x1="412.5" y1="431.37" x2="415" y2="431.37" stroke-width="1.8"/><line x1="412.5" y1="423.05" x2="415" y2="423.05" stroke-width="1.8"/><line x1="412.5" y1="416.25" x2="415" y2="416.25" stroke-width="1.8"/><line x1="412.5" y1="410.5" x2="415" y2="410.5" stroke-width="1.8"/><line x1="412.5" y1="405.52" x2="415" y2="405.52" stroke-width="1.8"/><line x1="412.5" y1="401.13" x2="415" y2="401.13" stroke-width="1.8"/><line x1="412.5" y1="397.2" x2="417" y2="397.2" stroke-width="1.8"/><line x1="412.5" y1="371.34" x2="415" y2="371.34" stroke-width="1.8"/><line x1="412.5" y1="356.22" x2="415" y2="356.22" stroke-width="1.8"/><line x1="412.5" y1="345.49" x2="415" y2="345.49" stroke-width="1.8"/><line x1="412.5" y1="337.17" x2="415" y2="337.17" stroke-width="1.8"/><line x1="412.5" y1="330.37" x2="415" y2="330.37" stroke-width="1.8"/><line x1="412.5" y1="324.62" x2="415" y2="324.62" stroke-width="1.8"/><line x1="412.5" y1="319.64" x2="415" y2="319.64" stroke-width="1.8"/><line x1="412.5" y1="315.25" x2="415" y2="315.25" stroke-width="1.8"/><line x1="412.5" y1="311.32" x2="417" y2="311.32" stroke-width="1.8"/></g>
<text x="426.65" y="526" font-size="14.6" text-anchor="middle">0</text>
<text x="479.7" y="526" font-size="14.6" text-anchor="middle">150</text>
<text x="532.75" y="526" font-size="14.6" text-anchor="middle">300</text>
<text x="585.81" y="526" font-size="14.6" text-anchor="middle">450</text>
<text x="638.86" y="526" font-size="14.6" text-anchor="middle">600</text>
<text x="408.5" y="488.38" font-size="14.6" text-anchor="end">10<tspan font-size="7" dx="0.5" dy="-6.5">-</tspan><tspan font-size="10" dx="1.3" dy="0.7">8</tspan></text>
<text x="408.5" y="402.5" font-size="14.6" text-anchor="end">10<tspan font-size="7" dx="0.5" dy="-6.5">-</tspan><tspan font-size="10" dx="1.3" dy="0.7">7</tspan></text>
<text x="408.5" y="316.62" font-size="14.6" text-anchor="end">10<tspan font-size="7" dx="0.5" dy="-6.5">-</tspan><tspan font-size="10" dx="1.3" dy="0.7">6</tspan></text>
<text x="546.9" y="550.7" font-size="16.2" text-anchor="middle">Pipe diameter /mm</text>
<text transform="translate(370.6 400.15) rotate(-90)" font-size="18.8" text-anchor="middle">Saturation rush current /A</text>
<text x="424.2" y="316" font-size="18.5">(d)</text>
<rect x="602.8" y="442" width="61.7" height="40" fill="#fff" stroke="#484848" stroke-width="1.3"/>
<path d="M616.29 443.26L624.58 448.3L616.29 453.34Z" fill="#fff" stroke="#1e1e8e" stroke-width="1.4" stroke-linejoin="miter"/>
<line x1="607.4" y1="448.3" x2="630.8" y2="448.3" stroke="#1e1e8e" stroke-width="1.5"/>
<text transform="translate(636.3 452.7) scale(0.93 1)" font-size="12">10<tspan dx="2.6">°</tspan><tspan dx="-0.9">C</tspan></text>
<path d="M619.2 456.61L623.9 462.1L619.2 467.59L614.5 462.1Z" fill="#fff" stroke="#8a1f9c" stroke-width="1.4" stroke-linejoin="miter"/>
<line x1="607.4" y1="462.1" x2="630.8" y2="462.1" stroke="#8a1f9c" stroke-width="1.5"/>
<text transform="translate(636.3 466.5) scale(0.93 1)" font-size="12">25<tspan dx="2.6">°</tspan><tspan dx="-0.9">C</tspan></text>
<circle cx="619.2" cy="475.9" r="4.2" fill="#fff" stroke="#1f7a58" stroke-width="1.4"/>
<line x1="607.4" y1="475.9" x2="630.8" y2="475.9" stroke="#1f7a58" stroke-width="1.5"/>
<text transform="translate(636.3 480.3) scale(0.93 1)" font-size="12">40<tspan dx="2.6">°</tspan><tspan dx="-0.9">C</tspan></text>
</svg></body></html>
